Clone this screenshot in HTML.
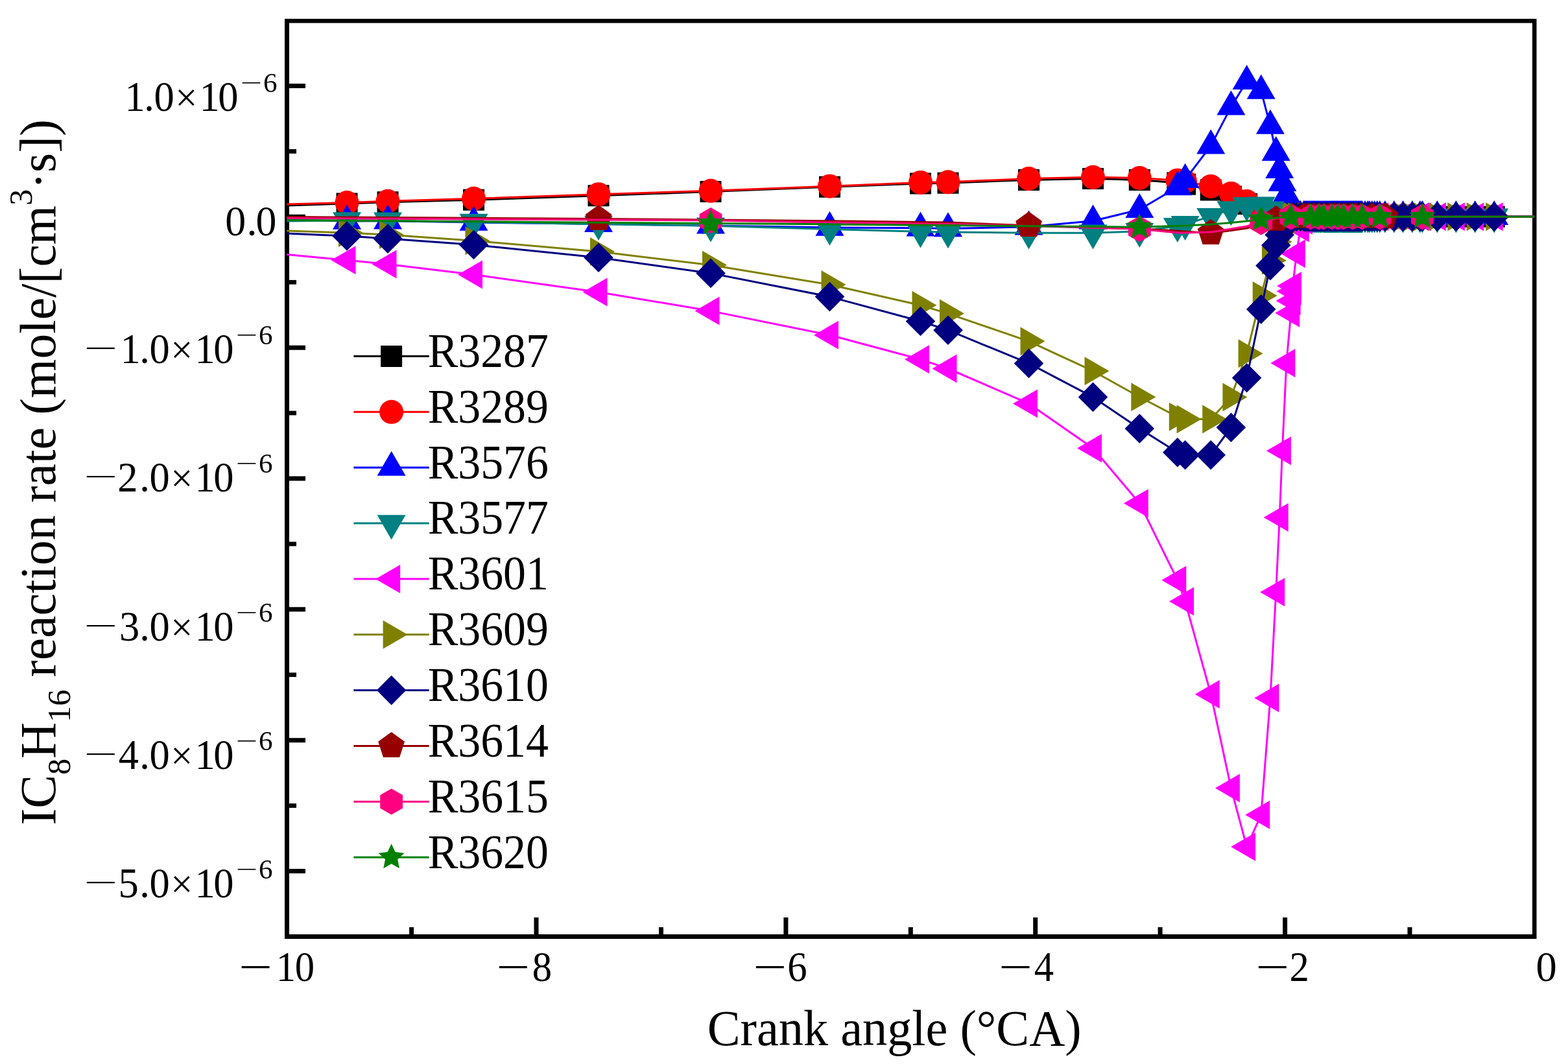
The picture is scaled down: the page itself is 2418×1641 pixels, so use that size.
<!DOCTYPE html><html><head><meta charset="utf-8"><title>IC8H16 reaction rate</title>
<style>html,body{margin:0;padding:0;background:#fff;overflow:hidden}svg{display:block}</style></head><body>
<svg width="2418" height="1641" viewBox="0 0 2418 1641">
<rect width="2418" height="1641" fill="#fff"/>
<g fill="#000"><rect x="439" y="29" width="7" height="1419"/><rect x="439" y="29" width="1930" height="6.5"/><rect x="2363" y="29" width="6.5" height="1419"/><rect x="439" y="1441" width="1930" height="7"/><rect x="446" y="129" width="25" height="7"/><rect x="446" y="330.8" width="25" height="7"/><rect x="446" y="532.7" width="25" height="7"/><rect x="446" y="734.5" width="25" height="7"/><rect x="446" y="936.3" width="25" height="7"/><rect x="446" y="1138.2" width="25" height="7"/><rect x="446" y="1340" width="25" height="7"/><rect x="446" y="230.1" width="11" height="6.7"/><rect x="446" y="431.9" width="11" height="6.7"/><rect x="446" y="633.7" width="11" height="6.7"/><rect x="446" y="835.6" width="11" height="6.7"/><rect x="446" y="1037.4" width="11" height="6.7"/><rect x="446" y="1239.2" width="11" height="6.7"/><rect x="823.5" y="1415" width="7" height="26"/><rect x="1208.4" y="1415" width="7" height="26"/><rect x="1593.2" y="1415" width="7" height="26"/><rect x="1978.1" y="1415" width="7" height="26"/><rect x="631.1" y="1430" width="7" height="11"/><rect x="1016" y="1430" width="7" height="11"/><rect x="1400.8" y="1430" width="7" height="11"/><rect x="1785.6" y="1430" width="7" height="11"/><rect x="2170.5" y="1430" width="7" height="11"/></g>
<defs><clipPath id="pa"><rect x="442.2" y="32" width="1924.1" height="1412"/></clipPath></defs>
<g clip-path="url(#pa)" stroke-linejoin="round">
<path d="M442.2 317 L535 314 L598 311.8 L730.5 308.3 L923 301.8 L1096 295.5 L1279.5 288.3 L1419.5 283 L1462 282.3 L1586.5 277.4 L1685.5 275.4 L1757.3 277.5 L1815.8 282 L1827.6 284.3 L1867.2 293.1 L1898.4 303 L1922.6 314.5 L1944.7 325 L1958.9 330 L1967.7 332.5 L1973.2 333.5 L1977.4 334 L1983.8 334.3 L1990.7 334.3 L1992.1 334.3 L1993.1 334.3 L1993.6 334.3 L1999.3 334.3 L2005.4 334.3 L2010.4 334.3 L2011.9 334.3 L2013.4 334.3 L2014.9 334.3 L2016.5 334.3 L2018 334.3 L2019.5 334.3 L2021 334.3 L2022.6 334.3 L2024.2 334.3 L2025.8 334.3 L2027.4 334.3 L2029 334.3 L2030.6 334.3 L2032.2 334.3 L2033.8 334.3 L2035.6 334.3 L2037.3 334.3 L2039.1 334.3 L2040.9 334.3 L2042.5 334.3 L2044.2 334.3 L2045.8 334.3 L2047.5 334.3 L2049.1 334.3 L2050.7 334.3 L2052.4 334.3 L2054 334.3 L2055.5 334.3 L2057 334.3 L2058.4 334.3 L2059.9 334.3 L2061.4 334.3 L2062.9 334.3 L2064.6 334.3 L2066.3 334.3 L2068.1 334.3 L2069.8 334.3 L2071.5 334.3 L2073.1 334.3 L2074.7 334.3 L2076.3 334.3 L2077.9 334.3 L2079.6 334.3 L2081.2 334.3 L2082.8 334.3 L2084.4 334.3 L2086 334.3 L2087.6 334.3 L2089.2 334.3 L2090.8 334.3 L2092.4 334.3 L2094.1 334.3 L2095.7 334.3 L2097.3 334.3 L2098.9 334.3 L2100.5 334.3 L2105 334.3 L2109.3 334.3 L2112 334.3 L2115.8 334.3 L2119.6 334.3 L2123.7 334.3 L2127.8 334.3 L2135.9 334.3 L2149.8 334.3 L2163.6 334.3 L2177.8 334.3 L2189.9 334.3 L2193.4 334.3 L2216.3 334.3 L2245.3 334.3 L2274.7 334.3 L2304.2 334.3 L2366.3 334.3" fill="none" stroke="#000000" stroke-width="3"/>
<path d="M518.5 297.5 L551.5 297.5 L551.5 330.5 L518.5 330.5 ZM581.5 295.3 L614.5 295.3 L614.5 328.3 L581.5 328.3 ZM714 291.8 L747 291.8 L747 324.8 L714 324.8 ZM906.5 285.3 L939.5 285.3 L939.5 318.3 L906.5 318.3 ZM1079.5 279 L1112.5 279 L1112.5 312 L1079.5 312 ZM1263 271.8 L1296 271.8 L1296 304.8 L1263 304.8 ZM1403 266.5 L1436 266.5 L1436 299.5 L1403 299.5 ZM1445.5 265.8 L1478.5 265.8 L1478.5 298.8 L1445.5 298.8 ZM1570 260.9 L1603 260.9 L1603 293.9 L1570 293.9 ZM1669 258.9 L1702 258.9 L1702 291.9 L1669 291.9 ZM1740.8 261 L1773.8 261 L1773.8 294 L1740.8 294 ZM1799.3 265.5 L1832.3 265.5 L1832.3 298.5 L1799.3 298.5 ZM1811.1 267.8 L1844.1 267.8 L1844.1 300.8 L1811.1 300.8 ZM1850.7 276.6 L1883.7 276.6 L1883.7 309.6 L1850.7 309.6 ZM1881.9 286.5 L1914.9 286.5 L1914.9 319.5 L1881.9 319.5 ZM1906.1 298 L1939.1 298 L1939.1 331 L1906.1 331 ZM1928.2 308.5 L1961.2 308.5 L1961.2 341.5 L1928.2 341.5 ZM1942.4 313.5 L1975.4 313.5 L1975.4 346.5 L1942.4 346.5 ZM1951.2 316 L1984.2 316 L1984.2 349 L1951.2 349 ZM1956.7 317 L1989.7 317 L1989.7 350 L1956.7 350 ZM1960.9 317.5 L1993.9 317.5 L1993.9 350.5 L1960.9 350.5 ZM1967.3 317.8 L2000.3 317.8 L2000.3 350.8 L1967.3 350.8 ZM1974.2 317.8 L2007.2 317.8 L2007.2 350.8 L1974.2 350.8 ZM1975.6 317.8 L2008.6 317.8 L2008.6 350.8 L1975.6 350.8 ZM1976.6 317.8 L2009.6 317.8 L2009.6 350.8 L1976.6 350.8 ZM1977.1 317.8 L2010.1 317.8 L2010.1 350.8 L1977.1 350.8 ZM1982.8 317.8 L2015.8 317.8 L2015.8 350.8 L1982.8 350.8 ZM1988.9 317.8 L2021.9 317.8 L2021.9 350.8 L1988.9 350.8 ZM1993.9 317.8 L2026.9 317.8 L2026.9 350.8 L1993.9 350.8 ZM1995.4 317.8 L2028.4 317.8 L2028.4 350.8 L1995.4 350.8 ZM1996.9 317.8 L2029.9 317.8 L2029.9 350.8 L1996.9 350.8 ZM1998.4 317.8 L2031.4 317.8 L2031.4 350.8 L1998.4 350.8 ZM2000 317.8 L2033 317.8 L2033 350.8 L2000 350.8 ZM2001.5 317.8 L2034.5 317.8 L2034.5 350.8 L2001.5 350.8 ZM2003 317.8 L2036 317.8 L2036 350.8 L2003 350.8 ZM2004.5 317.8 L2037.5 317.8 L2037.5 350.8 L2004.5 350.8 ZM2006.1 317.8 L2039.1 317.8 L2039.1 350.8 L2006.1 350.8 ZM2007.7 317.8 L2040.7 317.8 L2040.7 350.8 L2007.7 350.8 ZM2009.3 317.8 L2042.3 317.8 L2042.3 350.8 L2009.3 350.8 ZM2010.9 317.8 L2043.9 317.8 L2043.9 350.8 L2010.9 350.8 ZM2012.5 317.8 L2045.5 317.8 L2045.5 350.8 L2012.5 350.8 ZM2014.1 317.8 L2047.1 317.8 L2047.1 350.8 L2014.1 350.8 ZM2015.7 317.8 L2048.7 317.8 L2048.7 350.8 L2015.7 350.8 ZM2017.3 317.8 L2050.3 317.8 L2050.3 350.8 L2017.3 350.8 ZM2019.1 317.8 L2052.1 317.8 L2052.1 350.8 L2019.1 350.8 ZM2020.8 317.8 L2053.8 317.8 L2053.8 350.8 L2020.8 350.8 ZM2022.6 317.8 L2055.6 317.8 L2055.6 350.8 L2022.6 350.8 ZM2024.4 317.8 L2057.4 317.8 L2057.4 350.8 L2024.4 350.8 ZM2026 317.8 L2059 317.8 L2059 350.8 L2026 350.8 ZM2027.7 317.8 L2060.7 317.8 L2060.7 350.8 L2027.7 350.8 ZM2029.3 317.8 L2062.3 317.8 L2062.3 350.8 L2029.3 350.8 ZM2031 317.8 L2063.9 317.8 L2063.9 350.8 L2031 350.8 ZM2032.6 317.8 L2065.6 317.8 L2065.6 350.8 L2032.6 350.8 ZM2034.2 317.8 L2067.2 317.8 L2067.2 350.8 L2034.2 350.8 ZM2035.9 317.8 L2068.9 317.8 L2068.9 350.8 L2035.9 350.8 ZM2037.5 317.8 L2070.5 317.8 L2070.5 350.8 L2037.5 350.8 ZM2039 317.8 L2072 317.8 L2072 350.8 L2039 350.8 ZM2040.5 317.8 L2073.5 317.8 L2073.5 350.8 L2040.5 350.8 ZM2041.9 317.8 L2074.9 317.8 L2074.9 350.8 L2041.9 350.8 ZM2043.4 317.8 L2076.4 317.8 L2076.4 350.8 L2043.4 350.8 ZM2044.9 317.8 L2077.9 317.8 L2077.9 350.8 L2044.9 350.8 ZM2046.4 317.8 L2079.4 317.8 L2079.4 350.8 L2046.4 350.8 ZM2048.1 317.8 L2081.1 317.8 L2081.1 350.8 L2048.1 350.8 ZM2049.8 317.8 L2082.8 317.8 L2082.8 350.8 L2049.8 350.8 ZM2051.6 317.8 L2084.6 317.8 L2084.6 350.8 L2051.6 350.8 ZM2053.3 317.8 L2086.3 317.8 L2086.3 350.8 L2053.3 350.8 ZM2055 317.8 L2088 317.8 L2088 350.8 L2055 350.8 ZM2056.6 317.8 L2089.6 317.8 L2089.6 350.8 L2056.6 350.8 ZM2058.2 317.8 L2091.2 317.8 L2091.2 350.8 L2058.2 350.8 ZM2059.8 317.8 L2092.8 317.8 L2092.8 350.8 L2059.8 350.8 ZM2061.4 317.8 L2094.4 317.8 L2094.4 350.8 L2061.4 350.8 ZM2063.1 317.8 L2096.1 317.8 L2096.1 350.8 L2063.1 350.8 ZM2064.7 317.8 L2097.7 317.8 L2097.7 350.8 L2064.7 350.8 ZM2066.3 317.8 L2099.3 317.8 L2099.3 350.8 L2066.3 350.8 ZM2067.9 317.8 L2100.9 317.8 L2100.9 350.8 L2067.9 350.8 ZM2069.5 317.8 L2102.5 317.8 L2102.5 350.8 L2069.5 350.8 ZM2071.1 317.8 L2104.1 317.8 L2104.1 350.8 L2071.1 350.8 ZM2072.7 317.8 L2105.7 317.8 L2105.7 350.8 L2072.7 350.8 ZM2074.3 317.8 L2107.3 317.8 L2107.3 350.8 L2074.3 350.8 ZM2075.9 317.8 L2108.9 317.8 L2108.9 350.8 L2075.9 350.8 ZM2077.6 317.8 L2110.6 317.8 L2110.6 350.8 L2077.6 350.8 ZM2079.2 317.8 L2112.2 317.8 L2112.2 350.8 L2079.2 350.8 ZM2080.8 317.8 L2113.8 317.8 L2113.8 350.8 L2080.8 350.8 ZM2082.4 317.8 L2115.4 317.8 L2115.4 350.8 L2082.4 350.8 ZM2084 317.8 L2117 317.8 L2117 350.8 L2084 350.8 ZM2088.5 317.8 L2121.5 317.8 L2121.5 350.8 L2088.5 350.8 ZM2092.8 317.8 L2125.8 317.8 L2125.8 350.8 L2092.8 350.8 ZM2095.5 317.8 L2128.5 317.8 L2128.5 350.8 L2095.5 350.8 ZM2099.3 317.8 L2132.3 317.8 L2132.3 350.8 L2099.3 350.8 ZM2103.1 317.8 L2136.1 317.8 L2136.1 350.8 L2103.1 350.8 ZM2107.2 317.8 L2140.2 317.8 L2140.2 350.8 L2107.2 350.8 ZM2111.3 317.8 L2144.3 317.8 L2144.3 350.8 L2111.3 350.8 ZM2119.4 317.8 L2152.4 317.8 L2152.4 350.8 L2119.4 350.8 ZM2133.3 317.8 L2166.3 317.8 L2166.3 350.8 L2133.3 350.8 ZM2147.1 317.8 L2180.1 317.8 L2180.1 350.8 L2147.1 350.8 ZM2161.3 317.8 L2194.3 317.8 L2194.3 350.8 L2161.3 350.8 ZM2173.4 317.8 L2206.4 317.8 L2206.4 350.8 L2173.4 350.8 ZM2176.9 317.8 L2209.9 317.8 L2209.9 350.8 L2176.9 350.8 ZM2199.8 317.8 L2232.8 317.8 L2232.8 350.8 L2199.8 350.8 ZM2228.8 317.8 L2261.8 317.8 L2261.8 350.8 L2228.8 350.8 ZM2258.2 317.8 L2291.2 317.8 L2291.2 350.8 L2258.2 350.8 ZM2287.7 317.8 L2320.7 317.8 L2320.7 350.8 L2287.7 350.8 Z" fill="#000000"/>
<path d="M442.2 315 L535 312.5 L598 310.3 L730.5 306.3 L923 299.7 L1096 294.3 L1279.5 287.2 L1419.5 281.4 L1462 280.8 L1586.5 275.5 L1685.5 273.3 L1757.3 274.5 L1815.8 278.2 L1827.6 280 L1867.2 287.4 L1898.4 298.4 L1922.6 310.6 L1944.7 324 L1958.9 329 L1967.7 331.5 L1973.2 333 L1977.4 333.8 L1983.8 334.3 L1990.7 334.3 L1992.1 334.3 L1993.1 334.3 L1993.6 334.3 L1999.3 334.3 L2005.4 334.3 L2010.4 334.3 L2011.9 334.3 L2013.4 334.3 L2014.9 334.3 L2016.5 334.3 L2018 334.3 L2019.5 334.3 L2021 334.3 L2022.6 334.3 L2024.2 334.3 L2025.8 334.3 L2027.4 334.3 L2029 334.3 L2030.6 334.3 L2032.2 334.3 L2033.8 334.3 L2035.6 334.3 L2037.3 334.3 L2039.1 334.3 L2040.9 334.3 L2042.5 334.3 L2044.2 334.3 L2045.8 334.3 L2047.5 334.3 L2049.1 334.3 L2050.7 334.3 L2052.4 334.3 L2054 334.3 L2055.5 334.3 L2057 334.3 L2058.4 334.3 L2059.9 334.3 L2061.4 334.3 L2062.9 334.3 L2064.6 334.3 L2066.3 334.3 L2068.1 334.3 L2069.8 334.3 L2071.5 334.3 L2073.1 334.3 L2074.7 334.3 L2076.3 334.3 L2077.9 334.3 L2079.6 334.3 L2081.2 334.3 L2082.8 334.3 L2084.4 334.3 L2086 334.3 L2087.6 334.3 L2089.2 334.3 L2090.8 334.3 L2092.4 334.3 L2094.1 334.3 L2095.7 334.3 L2097.3 334.3 L2098.9 334.3 L2100.5 334.3 L2105 334.3 L2109.3 334.3 L2112 334.3 L2115.8 334.3 L2119.6 334.3 L2123.7 334.3 L2127.8 334.3 L2135.9 334.3 L2149.8 334.3 L2163.6 334.3 L2177.8 334.3 L2189.9 334.3 L2193.4 334.3 L2216.3 334.3 L2245.3 334.3 L2274.7 334.3 L2304.2 334.3 L2366.3 334.3" fill="none" stroke="#FF0000" stroke-width="3"/>
<path d="M516.5 312.5a18.5 18.5 0 1 0 37.0 0a18.5 18.5 0 1 0 -37.0 0ZM579.5 310.3a18.5 18.5 0 1 0 37.0 0a18.5 18.5 0 1 0 -37.0 0ZM712 306.3a18.5 18.5 0 1 0 37.0 0a18.5 18.5 0 1 0 -37.0 0ZM904.5 299.7a18.5 18.5 0 1 0 37.0 0a18.5 18.5 0 1 0 -37.0 0ZM1077.5 294.3a18.5 18.5 0 1 0 37.0 0a18.5 18.5 0 1 0 -37.0 0ZM1261 287.2a18.5 18.5 0 1 0 37.0 0a18.5 18.5 0 1 0 -37.0 0ZM1401 281.4a18.5 18.5 0 1 0 37.0 0a18.5 18.5 0 1 0 -37.0 0ZM1443.5 280.8a18.5 18.5 0 1 0 37.0 0a18.5 18.5 0 1 0 -37.0 0ZM1568 275.5a18.5 18.5 0 1 0 37.0 0a18.5 18.5 0 1 0 -37.0 0ZM1667 273.3a18.5 18.5 0 1 0 37.0 0a18.5 18.5 0 1 0 -37.0 0ZM1738.8 274.5a18.5 18.5 0 1 0 37.0 0a18.5 18.5 0 1 0 -37.0 0ZM1797.3 278.2a18.5 18.5 0 1 0 37.0 0a18.5 18.5 0 1 0 -37.0 0ZM1809.1 280a18.5 18.5 0 1 0 37.0 0a18.5 18.5 0 1 0 -37.0 0ZM1848.7 287.4a18.5 18.5 0 1 0 37.0 0a18.5 18.5 0 1 0 -37.0 0ZM1879.9 298.4a18.5 18.5 0 1 0 37.0 0a18.5 18.5 0 1 0 -37.0 0ZM1904.1 310.6a18.5 18.5 0 1 0 37.0 0a18.5 18.5 0 1 0 -37.0 0ZM1926.2 324a18.5 18.5 0 1 0 37.0 0a18.5 18.5 0 1 0 -37.0 0ZM1940.4 329a18.5 18.5 0 1 0 37.0 0a18.5 18.5 0 1 0 -37.0 0ZM1949.2 331.5a18.5 18.5 0 1 0 37.0 0a18.5 18.5 0 1 0 -37.0 0ZM1954.7 333a18.5 18.5 0 1 0 37.0 0a18.5 18.5 0 1 0 -37.0 0ZM1958.9 333.8a18.5 18.5 0 1 0 37.0 0a18.5 18.5 0 1 0 -37.0 0ZM1965.3 334.3a18.5 18.5 0 1 0 37.0 0a18.5 18.5 0 1 0 -37.0 0ZM1972.2 334.3a18.5 18.5 0 1 0 37.0 0a18.5 18.5 0 1 0 -37.0 0ZM1973.6 334.3a18.5 18.5 0 1 0 37.0 0a18.5 18.5 0 1 0 -37.0 0ZM1974.6 334.3a18.5 18.5 0 1 0 37.0 0a18.5 18.5 0 1 0 -37.0 0ZM1975.1 334.3a18.5 18.5 0 1 0 37.0 0a18.5 18.5 0 1 0 -37.0 0ZM1980.8 334.3a18.5 18.5 0 1 0 37.0 0a18.5 18.5 0 1 0 -37.0 0ZM1986.9 334.3a18.5 18.5 0 1 0 37.0 0a18.5 18.5 0 1 0 -37.0 0ZM1991.9 334.3a18.5 18.5 0 1 0 37.0 0a18.5 18.5 0 1 0 -37.0 0ZM1993.4 334.3a18.5 18.5 0 1 0 37.0 0a18.5 18.5 0 1 0 -37.0 0ZM1994.9 334.3a18.5 18.5 0 1 0 37.0 0a18.5 18.5 0 1 0 -37.0 0ZM1996.4 334.3a18.5 18.5 0 1 0 37.0 0a18.5 18.5 0 1 0 -37.0 0ZM1998 334.3a18.5 18.5 0 1 0 37.0 0a18.5 18.5 0 1 0 -37.0 0ZM1999.5 334.3a18.5 18.5 0 1 0 37.0 0a18.5 18.5 0 1 0 -37.0 0ZM2001 334.3a18.5 18.5 0 1 0 37.0 0a18.5 18.5 0 1 0 -37.0 0ZM2002.5 334.3a18.5 18.5 0 1 0 37.0 0a18.5 18.5 0 1 0 -37.0 0ZM2004.1 334.3a18.5 18.5 0 1 0 37.0 0a18.5 18.5 0 1 0 -37.0 0ZM2005.7 334.3a18.5 18.5 0 1 0 37.0 0a18.5 18.5 0 1 0 -37.0 0ZM2007.3 334.3a18.5 18.5 0 1 0 37.0 0a18.5 18.5 0 1 0 -37.0 0ZM2008.9 334.3a18.5 18.5 0 1 0 37.0 0a18.5 18.5 0 1 0 -37.0 0ZM2010.5 334.3a18.5 18.5 0 1 0 37.0 0a18.5 18.5 0 1 0 -37.0 0ZM2012.1 334.3a18.5 18.5 0 1 0 37.0 0a18.5 18.5 0 1 0 -37.0 0ZM2013.7 334.3a18.5 18.5 0 1 0 37.0 0a18.5 18.5 0 1 0 -37.0 0ZM2015.3 334.3a18.5 18.5 0 1 0 37.0 0a18.5 18.5 0 1 0 -37.0 0ZM2017.1 334.3a18.5 18.5 0 1 0 37.0 0a18.5 18.5 0 1 0 -37.0 0ZM2018.8 334.3a18.5 18.5 0 1 0 37.0 0a18.5 18.5 0 1 0 -37.0 0ZM2020.6 334.3a18.5 18.5 0 1 0 37.0 0a18.5 18.5 0 1 0 -37.0 0ZM2022.4 334.3a18.5 18.5 0 1 0 37.0 0a18.5 18.5 0 1 0 -37.0 0ZM2024 334.3a18.5 18.5 0 1 0 37.0 0a18.5 18.5 0 1 0 -37.0 0ZM2025.7 334.3a18.5 18.5 0 1 0 37.0 0a18.5 18.5 0 1 0 -37.0 0ZM2027.3 334.3a18.5 18.5 0 1 0 37.0 0a18.5 18.5 0 1 0 -37.0 0ZM2029 334.3a18.5 18.5 0 1 0 37.0 0a18.5 18.5 0 1 0 -37.0 0ZM2030.6 334.3a18.5 18.5 0 1 0 37.0 0a18.5 18.5 0 1 0 -37.0 0ZM2032.2 334.3a18.5 18.5 0 1 0 37.0 0a18.5 18.5 0 1 0 -37.0 0ZM2033.9 334.3a18.5 18.5 0 1 0 37.0 0a18.5 18.5 0 1 0 -37.0 0ZM2035.5 334.3a18.5 18.5 0 1 0 37.0 0a18.5 18.5 0 1 0 -37.0 0ZM2037 334.3a18.5 18.5 0 1 0 37.0 0a18.5 18.5 0 1 0 -37.0 0ZM2038.5 334.3a18.5 18.5 0 1 0 37.0 0a18.5 18.5 0 1 0 -37.0 0ZM2039.9 334.3a18.5 18.5 0 1 0 37.0 0a18.5 18.5 0 1 0 -37.0 0ZM2041.4 334.3a18.5 18.5 0 1 0 37.0 0a18.5 18.5 0 1 0 -37.0 0ZM2042.9 334.3a18.5 18.5 0 1 0 37.0 0a18.5 18.5 0 1 0 -37.0 0ZM2044.4 334.3a18.5 18.5 0 1 0 37.0 0a18.5 18.5 0 1 0 -37.0 0ZM2046.1 334.3a18.5 18.5 0 1 0 37.0 0a18.5 18.5 0 1 0 -37.0 0ZM2047.8 334.3a18.5 18.5 0 1 0 37.0 0a18.5 18.5 0 1 0 -37.0 0ZM2049.6 334.3a18.5 18.5 0 1 0 37.0 0a18.5 18.5 0 1 0 -37.0 0ZM2051.3 334.3a18.5 18.5 0 1 0 37.0 0a18.5 18.5 0 1 0 -37.0 0ZM2053 334.3a18.5 18.5 0 1 0 37.0 0a18.5 18.5 0 1 0 -37.0 0ZM2054.6 334.3a18.5 18.5 0 1 0 37.0 0a18.5 18.5 0 1 0 -37.0 0ZM2056.2 334.3a18.5 18.5 0 1 0 37.0 0a18.5 18.5 0 1 0 -37.0 0ZM2057.8 334.3a18.5 18.5 0 1 0 37.0 0a18.5 18.5 0 1 0 -37.0 0ZM2059.4 334.3a18.5 18.5 0 1 0 37.0 0a18.5 18.5 0 1 0 -37.0 0ZM2061.1 334.3a18.5 18.5 0 1 0 37.0 0a18.5 18.5 0 1 0 -37.0 0ZM2062.7 334.3a18.5 18.5 0 1 0 37.0 0a18.5 18.5 0 1 0 -37.0 0ZM2064.3 334.3a18.5 18.5 0 1 0 37.0 0a18.5 18.5 0 1 0 -37.0 0ZM2065.9 334.3a18.5 18.5 0 1 0 37.0 0a18.5 18.5 0 1 0 -37.0 0ZM2067.5 334.3a18.5 18.5 0 1 0 37.0 0a18.5 18.5 0 1 0 -37.0 0ZM2069.1 334.3a18.5 18.5 0 1 0 37.0 0a18.5 18.5 0 1 0 -37.0 0ZM2070.7 334.3a18.5 18.5 0 1 0 37.0 0a18.5 18.5 0 1 0 -37.0 0ZM2072.3 334.3a18.5 18.5 0 1 0 37.0 0a18.5 18.5 0 1 0 -37.0 0ZM2073.9 334.3a18.5 18.5 0 1 0 37.0 0a18.5 18.5 0 1 0 -37.0 0ZM2075.6 334.3a18.5 18.5 0 1 0 37.0 0a18.5 18.5 0 1 0 -37.0 0ZM2077.2 334.3a18.5 18.5 0 1 0 37.0 0a18.5 18.5 0 1 0 -37.0 0ZM2078.8 334.3a18.5 18.5 0 1 0 37.0 0a18.5 18.5 0 1 0 -37.0 0ZM2080.4 334.3a18.5 18.5 0 1 0 37.0 0a18.5 18.5 0 1 0 -37.0 0ZM2082 334.3a18.5 18.5 0 1 0 37.0 0a18.5 18.5 0 1 0 -37.0 0ZM2086.5 334.3a18.5 18.5 0 1 0 37.0 0a18.5 18.5 0 1 0 -37.0 0ZM2090.8 334.3a18.5 18.5 0 1 0 37.0 0a18.5 18.5 0 1 0 -37.0 0ZM2093.5 334.3a18.5 18.5 0 1 0 37.0 0a18.5 18.5 0 1 0 -37.0 0ZM2097.3 334.3a18.5 18.5 0 1 0 37.0 0a18.5 18.5 0 1 0 -37.0 0ZM2101.1 334.3a18.5 18.5 0 1 0 37.0 0a18.5 18.5 0 1 0 -37.0 0ZM2105.2 334.3a18.5 18.5 0 1 0 37.0 0a18.5 18.5 0 1 0 -37.0 0ZM2109.3 334.3a18.5 18.5 0 1 0 37.0 0a18.5 18.5 0 1 0 -37.0 0ZM2117.4 334.3a18.5 18.5 0 1 0 37.0 0a18.5 18.5 0 1 0 -37.0 0ZM2131.3 334.3a18.5 18.5 0 1 0 37.0 0a18.5 18.5 0 1 0 -37.0 0ZM2145.1 334.3a18.5 18.5 0 1 0 37.0 0a18.5 18.5 0 1 0 -37.0 0ZM2159.3 334.3a18.5 18.5 0 1 0 37.0 0a18.5 18.5 0 1 0 -37.0 0ZM2171.4 334.3a18.5 18.5 0 1 0 37.0 0a18.5 18.5 0 1 0 -37.0 0ZM2174.9 334.3a18.5 18.5 0 1 0 37.0 0a18.5 18.5 0 1 0 -37.0 0ZM2197.8 334.3a18.5 18.5 0 1 0 37.0 0a18.5 18.5 0 1 0 -37.0 0ZM2226.8 334.3a18.5 18.5 0 1 0 37.0 0a18.5 18.5 0 1 0 -37.0 0ZM2256.2 334.3a18.5 18.5 0 1 0 37.0 0a18.5 18.5 0 1 0 -37.0 0ZM2285.7 334.3a18.5 18.5 0 1 0 37.0 0a18.5 18.5 0 1 0 -37.0 0Z" fill="#FF0000"/>
<path d="M442.2 339.5 L535 341 L598 340.8 L730.5 343.1 L923 345.3 L1096 347.9 L1279.5 351 L1419.5 351.8 L1462 352.6 L1586.5 349.8 L1685.5 340.8 L1757.3 323.2 L1815.8 288.5 L1827.6 277.1 L1867.2 224.9 L1898.4 164.9 L1922.6 125.3 L1944.7 140.1 L1958.9 194.1 L1967.7 235.2 L1973.2 262.3 L1977.4 282.3 L1983.8 300.9 L1990.7 316 L1992.1 322 L1993.1 326 L1993.6 328.5 L1999.3 332 L2005.4 334 L2010.4 334.3 L2011.9 334.3 L2013.4 334.3 L2014.9 334.3 L2016.5 334.3 L2018 334.3 L2019.5 334.3 L2021 334.3 L2022.6 334.3 L2024.2 334.3 L2025.8 334.3 L2027.4 334.3 L2029 334.3 L2030.6 334.3 L2032.2 334.3 L2033.8 334.3 L2035.6 334.3 L2037.3 334.3 L2039.1 334.3 L2040.9 334.3 L2042.5 334.3 L2044.2 334.3 L2045.8 334.3 L2047.5 334.3 L2049.1 334.3 L2050.7 334.3 L2052.4 334.3 L2054 334.3 L2055.5 334.3 L2057 334.3 L2058.4 334.3 L2059.9 334.3 L2061.4 334.3 L2062.9 334.3 L2064.6 334.3 L2066.3 334.3 L2068.1 334.3 L2069.8 334.3 L2071.5 334.3 L2073.1 334.3 L2074.7 334.3 L2076.3 334.3 L2077.9 334.3 L2079.6 334.3 L2081.2 334.3 L2082.8 334.3 L2084.4 334.3 L2086 334.3 L2087.6 334.3 L2089.2 334.3 L2090.8 334.3 L2092.4 334.3 L2094.1 334.3 L2095.7 334.3 L2097.3 334.3 L2098.9 334.3 L2100.5 334.3 L2105 334.3 L2109.3 334.3 L2112 334.3 L2115.8 334.3 L2119.6 334.3 L2123.7 334.3 L2127.8 334.3 L2135.9 334.3 L2149.8 334.3 L2163.6 334.3 L2177.8 334.3 L2189.9 334.3 L2193.4 334.3 L2216.3 334.3 L2245.3 334.3 L2274.7 334.3 L2304.2 334.3 L2366.3 334.3" fill="none" stroke="#0000FF" stroke-width="3"/>
<path d="M535 315.7 L557 353.7 L513 353.7 ZM598 315.5 L620 353.5 L576 353.5 ZM730.5 317.8 L752.5 355.8 L708.5 355.8 ZM923 320 L945 358 L901 358 ZM1096 322.6 L1118 360.6 L1074 360.6 ZM1279.5 325.7 L1301.5 363.7 L1257.5 363.7 ZM1419.5 326.5 L1441.5 364.5 L1397.5 364.5 ZM1462 327.3 L1484 365.3 L1440 365.3 ZM1586.5 324.5 L1608.5 362.5 L1564.5 362.5 ZM1685.5 315.5 L1707.5 353.5 L1663.5 353.5 ZM1757.3 297.9 L1779.3 335.9 L1735.3 335.9 ZM1815.8 263.2 L1837.8 301.2 L1793.8 301.2 ZM1827.6 251.8 L1849.6 289.8 L1805.6 289.8 ZM1867.2 199.6 L1889.2 237.6 L1845.2 237.6 ZM1898.4 139.6 L1920.4 177.6 L1876.4 177.6 ZM1922.6 100 L1944.6 138 L1900.6 138 ZM1944.7 114.8 L1966.7 152.8 L1922.7 152.8 ZM1958.9 168.8 L1980.9 206.8 L1936.9 206.8 ZM1967.7 209.9 L1989.7 247.9 L1945.7 247.9 ZM1973.2 237 L1995.2 275 L1951.2 275 ZM1977.4 257 L1999.4 295 L1955.4 295 ZM1983.8 275.6 L2005.8 313.6 L1961.8 313.6 ZM1990.7 290.7 L2012.7 328.7 L1968.7 328.7 ZM1992.1 296.7 L2014.1 334.7 L1970.1 334.7 ZM1993.1 300.7 L2015.1 338.7 L1971.1 338.7 ZM1993.6 303.2 L2015.6 341.2 L1971.6 341.2 ZM1999.3 306.7 L2021.3 344.7 L1977.3 344.7 ZM2005.4 308.7 L2027.4 346.7 L1983.4 346.7 ZM2010.4 309 L2032.4 347 L1988.4 347 ZM2011.9 309 L2033.9 347 L1989.9 347 ZM2013.4 309 L2035.4 347 L1991.4 347 ZM2014.9 309 L2036.9 347 L1992.9 347 ZM2016.5 309 L2038.5 347 L1994.5 347 ZM2018 309 L2040 347 L1996 347 ZM2019.5 309 L2041.5 347 L1997.5 347 ZM2021 309 L2043 347 L1999 347 ZM2022.6 309 L2044.6 347 L2000.6 347 ZM2024.2 309 L2046.2 347 L2002.2 347 ZM2025.8 309 L2047.8 347 L2003.8 347 ZM2027.4 309 L2049.4 347 L2005.4 347 ZM2029 309 L2051 347 L2007 347 ZM2030.6 309 L2052.6 347 L2008.6 347 ZM2032.2 309 L2054.2 347 L2010.2 347 ZM2033.8 309 L2055.8 347 L2011.8 347 ZM2035.6 309 L2057.6 347 L2013.6 347 ZM2037.3 309 L2059.3 347 L2015.3 347 ZM2039.1 309 L2061.1 347 L2017.1 347 ZM2040.9 309 L2062.9 347 L2018.9 347 ZM2042.5 309 L2064.5 347 L2020.5 347 ZM2044.2 309 L2066.2 347 L2022.2 347 ZM2045.8 309 L2067.8 347 L2023.8 347 ZM2047.5 309 L2069.4 347 L2025.5 347 ZM2049.1 309 L2071.1 347 L2027.1 347 ZM2050.7 309 L2072.7 347 L2028.7 347 ZM2052.4 309 L2074.4 347 L2030.4 347 ZM2054 309 L2076 347 L2032 347 ZM2055.5 309 L2077.5 347 L2033.5 347 ZM2057 309 L2079 347 L2035 347 ZM2058.4 309 L2080.4 347 L2036.4 347 ZM2059.9 309 L2081.9 347 L2037.9 347 ZM2061.4 309 L2083.4 347 L2039.4 347 ZM2062.9 309 L2084.9 347 L2040.9 347 ZM2064.6 309 L2086.6 347 L2042.6 347 ZM2066.3 309 L2088.3 347 L2044.3 347 ZM2068.1 309 L2090.1 347 L2046.1 347 ZM2069.8 309 L2091.8 347 L2047.8 347 ZM2071.5 309 L2093.5 347 L2049.5 347 ZM2073.1 309 L2095.1 347 L2051.1 347 ZM2074.7 309 L2096.7 347 L2052.7 347 ZM2076.3 309 L2098.3 347 L2054.3 347 ZM2077.9 309 L2099.9 347 L2055.9 347 ZM2079.6 309 L2101.6 347 L2057.6 347 ZM2081.2 309 L2103.2 347 L2059.2 347 ZM2082.8 309 L2104.8 347 L2060.8 347 ZM2084.4 309 L2106.4 347 L2062.4 347 ZM2086 309 L2108 347 L2064 347 ZM2087.6 309 L2109.6 347 L2065.6 347 ZM2089.2 309 L2111.2 347 L2067.2 347 ZM2090.8 309 L2112.8 347 L2068.8 347 ZM2092.4 309 L2114.4 347 L2070.4 347 ZM2094.1 309 L2116.1 347 L2072.1 347 ZM2095.7 309 L2117.7 347 L2073.7 347 ZM2097.3 309 L2119.3 347 L2075.3 347 ZM2098.9 309 L2120.9 347 L2076.9 347 ZM2100.5 309 L2122.5 347 L2078.5 347 ZM2105 309 L2127 347 L2083 347 ZM2109.3 309 L2131.3 347 L2087.3 347 ZM2112 309 L2134 347 L2090 347 ZM2115.8 309 L2137.8 347 L2093.8 347 ZM2119.6 309 L2141.6 347 L2097.6 347 ZM2123.7 309 L2145.7 347 L2101.7 347 ZM2127.8 309 L2149.8 347 L2105.8 347 ZM2135.9 309 L2157.9 347 L2113.9 347 ZM2149.8 309 L2171.8 347 L2127.8 347 ZM2163.6 309 L2185.6 347 L2141.6 347 ZM2177.8 309 L2199.8 347 L2155.8 347 ZM2189.9 309 L2211.9 347 L2167.9 347 ZM2193.4 309 L2215.4 347 L2171.4 347 ZM2216.3 309 L2238.3 347 L2194.3 347 ZM2245.3 309 L2267.3 347 L2223.3 347 ZM2274.7 309 L2296.7 347 L2252.7 347 ZM2304.2 309 L2326.2 347 L2282.2 347 Z" fill="#0000FF"/>
<path d="M442.2 341 L535 340 L598 340.3 L730.5 342.5 L923 345.7 L1096 348.3 L1279.5 353.5 L1419.5 357.3 L1462 357.9 L1586.5 359.3 L1685.5 359.3 L1757.3 356.7 L1815.8 348.7 L1827.6 345.7 L1867.2 333.8 L1898.4 322.9 L1922.6 316.7 L1944.7 316.3 L1958.9 323.2 L1967.7 328 L1973.2 331 L1977.4 333 L1983.8 334 L1990.7 334.3 L1992.1 334.3 L1993.1 334.3 L1993.6 334.3 L1999.3 334.3 L2005.4 334.3 L2010.4 334.3 L2011.9 334.3 L2013.4 334.3 L2014.9 334.3 L2016.5 334.3 L2018 334.3 L2019.5 334.3 L2021 334.3 L2022.6 334.3 L2024.2 334.3 L2025.8 334.3 L2027.4 334.3 L2029 334.3 L2030.6 334.3 L2032.2 334.3 L2033.8 334.3 L2035.6 334.3 L2037.3 334.3 L2039.1 334.3 L2040.9 334.3 L2042.5 334.3 L2044.2 334.3 L2045.8 334.3 L2047.5 334.3 L2049.1 334.3 L2050.7 334.3 L2052.4 334.3 L2054 334.3 L2055.5 334.3 L2057 334.3 L2058.4 334.3 L2059.9 334.3 L2061.4 334.3 L2062.9 334.3 L2064.6 334.3 L2066.3 334.3 L2068.1 334.3 L2069.8 334.3 L2071.5 334.3 L2073.1 334.3 L2074.7 334.3 L2076.3 334.3 L2077.9 334.3 L2079.6 334.3 L2081.2 334.3 L2082.8 334.3 L2084.4 334.3 L2086 334.3 L2087.6 334.3 L2089.2 334.3 L2090.8 334.3 L2092.4 334.3 L2094.1 334.3 L2095.7 334.3 L2097.3 334.3 L2098.9 334.3 L2100.5 334.3 L2105 334.3 L2109.3 334.3 L2112 334.3 L2115.8 334.3 L2119.6 334.3 L2123.7 334.3 L2127.8 334.3 L2135.9 334.3 L2149.8 334.3 L2163.6 334.3 L2177.8 334.3 L2189.9 334.3 L2193.4 334.3 L2216.3 334.3 L2245.3 334.3 L2274.7 334.3 L2304.2 334.3 L2366.3 334.3" fill="none" stroke="#008080" stroke-width="3"/>
<path d="M535 365.3 L557 327.3 L513 327.3 ZM598 365.6 L620 327.6 L576 327.6 ZM730.5 367.8 L752.5 329.8 L708.5 329.8 ZM923 371 L945 333 L901 333 ZM1096 373.6 L1118 335.6 L1074 335.6 ZM1279.5 378.8 L1301.5 340.8 L1257.5 340.8 ZM1419.5 382.6 L1441.5 344.6 L1397.5 344.6 ZM1462 383.2 L1484 345.2 L1440 345.2 ZM1586.5 384.6 L1608.5 346.6 L1564.5 346.6 ZM1685.5 384.6 L1707.5 346.6 L1663.5 346.6 ZM1757.3 382 L1779.3 344 L1735.3 344 ZM1815.8 374 L1837.8 336 L1793.8 336 ZM1827.6 371 L1849.6 333 L1805.6 333 ZM1867.2 359.1 L1889.2 321.1 L1845.2 321.1 ZM1898.4 348.2 L1920.4 310.2 L1876.4 310.2 ZM1922.6 342 L1944.6 304 L1900.6 304 ZM1944.7 341.6 L1966.7 303.6 L1922.7 303.6 ZM1958.9 348.5 L1980.9 310.5 L1936.9 310.5 ZM1967.7 353.3 L1989.7 315.3 L1945.7 315.3 ZM1973.2 356.3 L1995.2 318.3 L1951.2 318.3 ZM1977.4 358.3 L1999.4 320.3 L1955.4 320.3 ZM1983.8 359.3 L2005.8 321.3 L1961.8 321.3 ZM1990.7 359.6 L2012.7 321.6 L1968.7 321.6 ZM1992.1 359.6 L2014.1 321.6 L1970.1 321.6 ZM1993.1 359.6 L2015.1 321.6 L1971.1 321.6 ZM1993.6 359.6 L2015.6 321.6 L1971.6 321.6 ZM1999.3 359.6 L2021.3 321.6 L1977.3 321.6 ZM2005.4 359.6 L2027.4 321.6 L1983.4 321.6 ZM2010.4 359.6 L2032.4 321.6 L1988.4 321.6 ZM2011.9 359.6 L2033.9 321.6 L1989.9 321.6 ZM2013.4 359.6 L2035.4 321.6 L1991.4 321.6 ZM2014.9 359.6 L2036.9 321.6 L1992.9 321.6 ZM2016.5 359.6 L2038.5 321.6 L1994.5 321.6 ZM2018 359.6 L2040 321.6 L1996 321.6 ZM2019.5 359.6 L2041.5 321.6 L1997.5 321.6 ZM2021 359.6 L2043 321.6 L1999 321.6 ZM2022.6 359.6 L2044.6 321.6 L2000.6 321.6 ZM2024.2 359.6 L2046.2 321.6 L2002.2 321.6 ZM2025.8 359.6 L2047.8 321.6 L2003.8 321.6 ZM2027.4 359.6 L2049.4 321.6 L2005.4 321.6 ZM2029 359.6 L2051 321.6 L2007 321.6 ZM2030.6 359.6 L2052.6 321.6 L2008.6 321.6 ZM2032.2 359.6 L2054.2 321.6 L2010.2 321.6 ZM2033.8 359.6 L2055.8 321.6 L2011.8 321.6 ZM2035.6 359.6 L2057.6 321.6 L2013.6 321.6 ZM2037.3 359.6 L2059.3 321.6 L2015.3 321.6 ZM2039.1 359.6 L2061.1 321.6 L2017.1 321.6 ZM2040.9 359.6 L2062.9 321.6 L2018.9 321.6 ZM2042.5 359.6 L2064.5 321.6 L2020.5 321.6 ZM2044.2 359.6 L2066.2 321.6 L2022.2 321.6 ZM2045.8 359.6 L2067.8 321.6 L2023.8 321.6 ZM2047.5 359.6 L2069.4 321.6 L2025.5 321.6 ZM2049.1 359.6 L2071.1 321.6 L2027.1 321.6 ZM2050.7 359.6 L2072.7 321.6 L2028.7 321.6 ZM2052.4 359.6 L2074.4 321.6 L2030.4 321.6 ZM2054 359.6 L2076 321.6 L2032 321.6 ZM2055.5 359.6 L2077.5 321.6 L2033.5 321.6 ZM2057 359.6 L2079 321.6 L2035 321.6 ZM2058.4 359.6 L2080.4 321.6 L2036.4 321.6 ZM2059.9 359.6 L2081.9 321.6 L2037.9 321.6 ZM2061.4 359.6 L2083.4 321.6 L2039.4 321.6 ZM2062.9 359.6 L2084.9 321.6 L2040.9 321.6 ZM2064.6 359.6 L2086.6 321.6 L2042.6 321.6 ZM2066.3 359.6 L2088.3 321.6 L2044.3 321.6 ZM2068.1 359.6 L2090.1 321.6 L2046.1 321.6 ZM2069.8 359.6 L2091.8 321.6 L2047.8 321.6 ZM2071.5 359.6 L2093.5 321.6 L2049.5 321.6 ZM2073.1 359.6 L2095.1 321.6 L2051.1 321.6 ZM2074.7 359.6 L2096.7 321.6 L2052.7 321.6 ZM2076.3 359.6 L2098.3 321.6 L2054.3 321.6 ZM2077.9 359.6 L2099.9 321.6 L2055.9 321.6 ZM2079.6 359.6 L2101.6 321.6 L2057.6 321.6 ZM2081.2 359.6 L2103.2 321.6 L2059.2 321.6 ZM2082.8 359.6 L2104.8 321.6 L2060.8 321.6 ZM2084.4 359.6 L2106.4 321.6 L2062.4 321.6 ZM2086 359.6 L2108 321.6 L2064 321.6 ZM2087.6 359.6 L2109.6 321.6 L2065.6 321.6 ZM2089.2 359.6 L2111.2 321.6 L2067.2 321.6 ZM2090.8 359.6 L2112.8 321.6 L2068.8 321.6 ZM2092.4 359.6 L2114.4 321.6 L2070.4 321.6 ZM2094.1 359.6 L2116.1 321.6 L2072.1 321.6 ZM2095.7 359.6 L2117.7 321.6 L2073.7 321.6 ZM2097.3 359.6 L2119.3 321.6 L2075.3 321.6 ZM2098.9 359.6 L2120.9 321.6 L2076.9 321.6 ZM2100.5 359.6 L2122.5 321.6 L2078.5 321.6 ZM2105 359.6 L2127 321.6 L2083 321.6 ZM2109.3 359.6 L2131.3 321.6 L2087.3 321.6 ZM2112 359.6 L2134 321.6 L2090 321.6 ZM2115.8 359.6 L2137.8 321.6 L2093.8 321.6 ZM2119.6 359.6 L2141.6 321.6 L2097.6 321.6 ZM2123.7 359.6 L2145.7 321.6 L2101.7 321.6 ZM2127.8 359.6 L2149.8 321.6 L2105.8 321.6 ZM2135.9 359.6 L2157.9 321.6 L2113.9 321.6 ZM2149.8 359.6 L2171.8 321.6 L2127.8 321.6 ZM2163.6 359.6 L2185.6 321.6 L2141.6 321.6 ZM2177.8 359.6 L2199.8 321.6 L2155.8 321.6 ZM2189.9 359.6 L2211.9 321.6 L2167.9 321.6 ZM2193.4 359.6 L2215.4 321.6 L2171.4 321.6 ZM2216.3 359.6 L2238.3 321.6 L2194.3 321.6 ZM2245.3 359.6 L2267.3 321.6 L2223.3 321.6 ZM2274.7 359.6 L2296.7 321.6 L2252.7 321.6 ZM2304.2 359.6 L2326.2 321.6 L2282.2 321.6 Z" fill="#008080"/>
<path d="M442.2 392.4 L535 401.3 L598 407.5 L730.5 423.5 L923 450.4 L1096 479.6 L1279.5 516.8 L1419.5 554.3 L1462 568.5 L1586.5 622.4 L1685.5 691.2 L1757.3 776.2 L1815.8 894.7 L1827.6 927.5 L1867.2 1070.7 L1898.4 1215.6 L1922.6 1306 L1944.7 1256.8 L1958.9 1076.6 L1967.7 913.3 L1973.2 798 L1977.4 695.3 L1983.8 559.9 L1990.7 482.7 L1992.1 464 L1993.1 449.2 L1993.6 440.9 L1999.3 391.2 L2005.4 351.6 L2010.4 339.8 L2011.9 335.5 L2013.4 334.3 L2014.9 334.3 L2016.5 334.3 L2018 334.3 L2019.5 334.3 L2021 334.3 L2022.6 334.3 L2024.2 334.3 L2025.8 334.3 L2027.4 334.3 L2029 334.3 L2030.6 334.3 L2032.2 334.3 L2033.8 334.3 L2035.6 334.3 L2037.3 334.3 L2039.1 334.3 L2040.9 334.3 L2042.5 334.3 L2044.2 334.3 L2045.8 334.3 L2047.5 334.3 L2049.1 334.3 L2050.7 334.3 L2052.4 334.3 L2054 334.3 L2055.5 334.3 L2057 334.3 L2058.4 334.3 L2059.9 334.3 L2061.4 334.3 L2062.9 334.3 L2064.6 334.3 L2066.3 334.3 L2068.1 334.3 L2069.8 334.3 L2071.5 334.3 L2073.1 334.3 L2074.7 334.3 L2076.3 334.3 L2077.9 334.3 L2079.6 334.3 L2081.2 334.3 L2082.8 334.3 L2084.4 334.3 L2086 334.3 L2087.6 334.3 L2089.2 334.3 L2090.8 334.3 L2092.4 334.3 L2094.1 334.3 L2095.7 334.3 L2097.3 334.3 L2098.9 334.3 L2100.5 334.3 L2105 334.3 L2109.3 334.3 L2112 334.3 L2115.8 334.3 L2119.6 334.3 L2123.7 334.3 L2127.8 334.3 L2135.9 334.3 L2149.8 334.3 L2163.6 334.3 L2177.8 334.3 L2189.9 334.3 L2193.4 334.3 L2216.3 334.3 L2245.3 334.3 L2274.7 334.3 L2304.2 334.3 L2366.3 334.3" fill="none" stroke="#FF00FF" stroke-width="3"/>
<path d="M510.5 401.3 L548.5 379.3 L548.5 423.3 ZM573.5 407.5 L611.5 385.5 L611.5 429.5 ZM706 423.5 L744 401.5 L744 445.5 ZM898.5 450.4 L936.5 428.4 L936.5 472.4 ZM1071.5 479.6 L1109.5 457.6 L1109.5 501.6 ZM1255 516.8 L1293 494.8 L1293 538.8 ZM1395 554.3 L1433 532.3 L1433 576.3 ZM1437.5 568.5 L1475.5 546.5 L1475.5 590.5 ZM1562 622.4 L1600 600.4 L1600 644.4 ZM1661 691.2 L1699 669.2 L1699 713.2 ZM1732.8 776.2 L1770.8 754.2 L1770.8 798.2 ZM1791.3 894.7 L1829.3 872.7 L1829.3 916.7 ZM1803.1 927.5 L1841.1 905.5 L1841.1 949.5 ZM1842.7 1070.7 L1880.7 1048.7 L1880.7 1092.7 ZM1873.9 1215.6 L1911.9 1193.6 L1911.9 1237.6 ZM1898.1 1306 L1936.1 1284 L1936.1 1328 ZM1920.2 1256.8 L1958.2 1234.8 L1958.2 1278.8 ZM1934.4 1076.6 L1972.4 1054.6 L1972.4 1098.6 ZM1943.2 913.3 L1981.2 891.3 L1981.2 935.3 ZM1948.7 798 L1986.7 776 L1986.7 820 ZM1952.9 695.3 L1990.9 673.3 L1990.9 717.3 ZM1959.3 559.9 L1997.3 537.9 L1997.3 581.9 ZM1966.2 482.7 L2004.2 460.7 L2004.2 504.7 ZM1967.6 464 L2005.6 442 L2005.6 486 ZM1968.6 449.2 L2006.6 427.2 L2006.6 471.2 ZM1969.1 440.9 L2007.1 418.9 L2007.1 462.9 ZM1974.8 391.2 L2012.8 369.2 L2012.8 413.2 ZM1980.9 351.6 L2018.9 329.6 L2018.9 373.6 ZM1985.9 339.8 L2023.9 317.8 L2023.9 361.8 ZM1987.4 335.5 L2025.4 313.5 L2025.4 357.5 ZM1988.9 334.3 L2026.9 312.3 L2026.9 356.3 ZM1990.4 334.3 L2028.4 312.3 L2028.4 356.3 ZM1992 334.3 L2030 312.3 L2030 356.3 ZM1993.5 334.3 L2031.5 312.3 L2031.5 356.3 ZM1995 334.3 L2033 312.3 L2033 356.3 ZM1996.5 334.3 L2034.5 312.3 L2034.5 356.3 ZM1998.1 334.3 L2036.1 312.3 L2036.1 356.3 ZM1999.7 334.3 L2037.7 312.3 L2037.7 356.3 ZM2001.3 334.3 L2039.3 312.3 L2039.3 356.3 ZM2002.9 334.3 L2040.9 312.3 L2040.9 356.3 ZM2004.5 334.3 L2042.5 312.3 L2042.5 356.3 ZM2006.1 334.3 L2044.1 312.3 L2044.1 356.3 ZM2007.7 334.3 L2045.7 312.3 L2045.7 356.3 ZM2009.3 334.3 L2047.3 312.3 L2047.3 356.3 ZM2011.1 334.3 L2049.1 312.3 L2049.1 356.3 ZM2012.8 334.3 L2050.8 312.3 L2050.8 356.3 ZM2014.6 334.3 L2052.6 312.3 L2052.6 356.3 ZM2016.4 334.3 L2054.4 312.3 L2054.4 356.3 ZM2018 334.3 L2056 312.3 L2056 356.3 ZM2019.7 334.3 L2057.7 312.3 L2057.7 356.3 ZM2021.3 334.3 L2059.3 312.3 L2059.3 356.3 ZM2023 334.3 L2061 312.3 L2061 356.3 ZM2024.6 334.3 L2062.6 312.3 L2062.6 356.3 ZM2026.2 334.3 L2064.2 312.3 L2064.2 356.3 ZM2027.9 334.3 L2065.9 312.3 L2065.9 356.3 ZM2029.5 334.3 L2067.5 312.3 L2067.5 356.3 ZM2031 334.3 L2069 312.3 L2069 356.3 ZM2032.5 334.3 L2070.5 312.3 L2070.5 356.3 ZM2033.9 334.3 L2071.9 312.3 L2071.9 356.3 ZM2035.4 334.3 L2073.4 312.3 L2073.4 356.3 ZM2036.9 334.3 L2074.9 312.3 L2074.9 356.3 ZM2038.4 334.3 L2076.4 312.3 L2076.4 356.3 ZM2040.1 334.3 L2078.1 312.3 L2078.1 356.3 ZM2041.8 334.3 L2079.8 312.3 L2079.8 356.3 ZM2043.6 334.3 L2081.6 312.3 L2081.6 356.3 ZM2045.3 334.3 L2083.3 312.3 L2083.3 356.3 ZM2047 334.3 L2085 312.3 L2085 356.3 ZM2048.6 334.3 L2086.6 312.3 L2086.6 356.3 ZM2050.2 334.3 L2088.2 312.3 L2088.2 356.3 ZM2051.8 334.3 L2089.8 312.3 L2089.8 356.3 ZM2053.4 334.3 L2091.4 312.3 L2091.4 356.3 ZM2055.1 334.3 L2093.1 312.3 L2093.1 356.3 ZM2056.7 334.3 L2094.7 312.3 L2094.7 356.3 ZM2058.3 334.3 L2096.3 312.3 L2096.3 356.3 ZM2059.9 334.3 L2097.9 312.3 L2097.9 356.3 ZM2061.5 334.3 L2099.5 312.3 L2099.5 356.3 ZM2063.1 334.3 L2101.1 312.3 L2101.1 356.3 ZM2064.7 334.3 L2102.7 312.3 L2102.7 356.3 ZM2066.3 334.3 L2104.3 312.3 L2104.3 356.3 ZM2067.9 334.3 L2105.9 312.3 L2105.9 356.3 ZM2069.6 334.3 L2107.6 312.3 L2107.6 356.3 ZM2071.2 334.3 L2109.2 312.3 L2109.2 356.3 ZM2072.8 334.3 L2110.8 312.3 L2110.8 356.3 ZM2074.4 334.3 L2112.4 312.3 L2112.4 356.3 ZM2076 334.3 L2114 312.3 L2114 356.3 ZM2080.5 334.3 L2118.5 312.3 L2118.5 356.3 ZM2084.8 334.3 L2122.8 312.3 L2122.8 356.3 ZM2087.5 334.3 L2125.5 312.3 L2125.5 356.3 ZM2091.3 334.3 L2129.3 312.3 L2129.3 356.3 ZM2095.1 334.3 L2133.1 312.3 L2133.1 356.3 ZM2099.2 334.3 L2137.2 312.3 L2137.2 356.3 ZM2103.3 334.3 L2141.3 312.3 L2141.3 356.3 ZM2111.4 334.3 L2149.4 312.3 L2149.4 356.3 ZM2125.3 334.3 L2163.3 312.3 L2163.3 356.3 ZM2139.1 334.3 L2177.1 312.3 L2177.1 356.3 ZM2153.3 334.3 L2191.3 312.3 L2191.3 356.3 ZM2165.4 334.3 L2203.4 312.3 L2203.4 356.3 ZM2168.9 334.3 L2206.9 312.3 L2206.9 356.3 ZM2191.8 334.3 L2229.8 312.3 L2229.8 356.3 ZM2220.8 334.3 L2258.8 312.3 L2258.8 356.3 ZM2250.2 334.3 L2288.2 312.3 L2288.2 356.3 ZM2279.7 334.3 L2317.7 312.3 L2317.7 356.3 Z" fill="#FF00FF"/>
<path d="M442.2 356 L535 359 L598 362 L730.5 371.3 L923 388 L1096 408.8 L1279.5 439 L1419.5 470.7 L1462 483.6 L1586.5 526.3 L1685.5 572.2 L1757.3 612.3 L1815.8 642.8 L1827.6 646.5 L1867.2 646.5 L1898.4 612.4 L1922.6 545.3 L1944.7 455.9 L1958.9 401.7 L1967.7 373 L1973.2 358 L1977.4 349 L1983.8 342 L1990.7 337 L1992.1 335.5 L1993.1 334.8 L1993.6 334.3 L1999.3 334.3 L2005.4 334.3 L2010.4 334.3 L2011.9 334.3 L2013.4 334.3 L2014.9 334.3 L2016.5 334.3 L2018 334.3 L2019.5 334.3 L2021 334.3 L2022.6 334.3 L2024.2 334.3 L2025.8 334.3 L2027.4 334.3 L2029 334.3 L2030.6 334.3 L2032.2 334.3 L2033.8 334.3 L2035.6 334.3 L2037.3 334.3 L2039.1 334.3 L2040.9 334.3 L2042.5 334.3 L2044.2 334.3 L2045.8 334.3 L2047.5 334.3 L2049.1 334.3 L2050.7 334.3 L2052.4 334.3 L2054 334.3 L2055.5 334.3 L2057 334.3 L2058.4 334.3 L2059.9 334.3 L2061.4 334.3 L2062.9 334.3 L2064.6 334.3 L2066.3 334.3 L2068.1 334.3 L2069.8 334.3 L2071.5 334.3 L2073.1 334.3 L2074.7 334.3 L2076.3 334.3 L2077.9 334.3 L2079.6 334.3 L2081.2 334.3 L2082.8 334.3 L2084.4 334.3 L2086 334.3 L2087.6 334.3 L2089.2 334.3 L2090.8 334.3 L2092.4 334.3 L2094.1 334.3 L2095.7 334.3 L2097.3 334.3 L2098.9 334.3 L2100.5 334.3 L2105 334.3 L2109.3 334.3 L2112 334.3 L2115.8 334.3 L2119.6 334.3 L2123.7 334.3 L2127.8 334.3 L2135.9 334.3 L2149.8 334.3 L2163.6 334.3 L2177.8 334.3 L2189.9 334.3 L2193.4 334.3 L2216.3 334.3 L2245.3 334.3 L2274.7 334.3 L2304.2 334.3 L2366.3 334.3" fill="none" stroke="#808000" stroke-width="3"/>
<path d="M560 359 L522 337 L522 381 ZM623 362 L585 340 L585 384 ZM755.5 371.3 L717.5 349.3 L717.5 393.3 ZM948 388 L910 366 L910 410 ZM1121 408.8 L1083 386.8 L1083 430.8 ZM1304.5 439 L1266.5 417 L1266.5 461 ZM1444.5 470.7 L1406.5 448.7 L1406.5 492.7 ZM1487 483.6 L1449 461.6 L1449 505.6 ZM1611.5 526.3 L1573.5 504.3 L1573.5 548.3 ZM1710.5 572.2 L1672.5 550.2 L1672.5 594.2 ZM1782.3 612.3 L1744.3 590.3 L1744.3 634.3 ZM1840.8 642.8 L1802.8 620.8 L1802.8 664.8 ZM1852.6 646.5 L1814.6 624.5 L1814.6 668.5 ZM1892.2 646.5 L1854.2 624.5 L1854.2 668.5 ZM1923.4 612.4 L1885.4 590.4 L1885.4 634.4 ZM1947.6 545.3 L1909.6 523.3 L1909.6 567.3 ZM1969.7 455.9 L1931.7 433.9 L1931.7 477.9 ZM1983.9 401.7 L1945.9 379.7 L1945.9 423.7 ZM1992.7 373 L1954.7 351 L1954.7 395 ZM1998.2 358 L1960.2 336 L1960.2 380 ZM2002.4 349 L1964.4 327 L1964.4 371 ZM2008.8 342 L1970.8 320 L1970.8 364 ZM2015.7 337 L1977.7 315 L1977.7 359 ZM2017.1 335.5 L1979.1 313.5 L1979.1 357.5 ZM2018.1 334.8 L1980.1 312.8 L1980.1 356.8 ZM2018.6 334.3 L1980.6 312.3 L1980.6 356.3 ZM2024.3 334.3 L1986.3 312.3 L1986.3 356.3 ZM2030.4 334.3 L1992.4 312.3 L1992.4 356.3 ZM2035.4 334.3 L1997.4 312.3 L1997.4 356.3 ZM2036.9 334.3 L1998.9 312.3 L1998.9 356.3 ZM2038.4 334.3 L2000.4 312.3 L2000.4 356.3 ZM2039.9 334.3 L2001.9 312.3 L2001.9 356.3 ZM2041.5 334.3 L2003.5 312.3 L2003.5 356.3 ZM2043 334.3 L2005 312.3 L2005 356.3 ZM2044.5 334.3 L2006.5 312.3 L2006.5 356.3 ZM2046 334.3 L2008 312.3 L2008 356.3 ZM2047.6 334.3 L2009.6 312.3 L2009.6 356.3 ZM2049.2 334.3 L2011.2 312.3 L2011.2 356.3 ZM2050.8 334.3 L2012.8 312.3 L2012.8 356.3 ZM2052.4 334.3 L2014.4 312.3 L2014.4 356.3 ZM2054 334.3 L2016 312.3 L2016 356.3 ZM2055.6 334.3 L2017.6 312.3 L2017.6 356.3 ZM2057.2 334.3 L2019.2 312.3 L2019.2 356.3 ZM2058.8 334.3 L2020.8 312.3 L2020.8 356.3 ZM2060.6 334.3 L2022.6 312.3 L2022.6 356.3 ZM2062.3 334.3 L2024.3 312.3 L2024.3 356.3 ZM2064.1 334.3 L2026.1 312.3 L2026.1 356.3 ZM2065.9 334.3 L2027.9 312.3 L2027.9 356.3 ZM2067.5 334.3 L2029.5 312.3 L2029.5 356.3 ZM2069.2 334.3 L2031.2 312.3 L2031.2 356.3 ZM2070.8 334.3 L2032.8 312.3 L2032.8 356.3 ZM2072.4 334.3 L2034.5 312.3 L2034.5 356.3 ZM2074.1 334.3 L2036.1 312.3 L2036.1 356.3 ZM2075.7 334.3 L2037.7 312.3 L2037.7 356.3 ZM2077.4 334.3 L2039.4 312.3 L2039.4 356.3 ZM2079 334.3 L2041 312.3 L2041 356.3 ZM2080.5 334.3 L2042.5 312.3 L2042.5 356.3 ZM2082 334.3 L2044 312.3 L2044 356.3 ZM2083.4 334.3 L2045.4 312.3 L2045.4 356.3 ZM2084.9 334.3 L2046.9 312.3 L2046.9 356.3 ZM2086.4 334.3 L2048.4 312.3 L2048.4 356.3 ZM2087.9 334.3 L2049.9 312.3 L2049.9 356.3 ZM2089.6 334.3 L2051.6 312.3 L2051.6 356.3 ZM2091.3 334.3 L2053.3 312.3 L2053.3 356.3 ZM2093.1 334.3 L2055.1 312.3 L2055.1 356.3 ZM2094.8 334.3 L2056.8 312.3 L2056.8 356.3 ZM2096.5 334.3 L2058.5 312.3 L2058.5 356.3 ZM2098.1 334.3 L2060.1 312.3 L2060.1 356.3 ZM2099.7 334.3 L2061.7 312.3 L2061.7 356.3 ZM2101.3 334.3 L2063.3 312.3 L2063.3 356.3 ZM2102.9 334.3 L2064.9 312.3 L2064.9 356.3 ZM2104.6 334.3 L2066.6 312.3 L2066.6 356.3 ZM2106.2 334.3 L2068.2 312.3 L2068.2 356.3 ZM2107.8 334.3 L2069.8 312.3 L2069.8 356.3 ZM2109.4 334.3 L2071.4 312.3 L2071.4 356.3 ZM2111 334.3 L2073 312.3 L2073 356.3 ZM2112.6 334.3 L2074.6 312.3 L2074.6 356.3 ZM2114.2 334.3 L2076.2 312.3 L2076.2 356.3 ZM2115.8 334.3 L2077.8 312.3 L2077.8 356.3 ZM2117.4 334.3 L2079.4 312.3 L2079.4 356.3 ZM2119.1 334.3 L2081.1 312.3 L2081.1 356.3 ZM2120.7 334.3 L2082.7 312.3 L2082.7 356.3 ZM2122.3 334.3 L2084.3 312.3 L2084.3 356.3 ZM2123.9 334.3 L2085.9 312.3 L2085.9 356.3 ZM2125.5 334.3 L2087.5 312.3 L2087.5 356.3 ZM2130 334.3 L2092 312.3 L2092 356.3 ZM2134.3 334.3 L2096.3 312.3 L2096.3 356.3 ZM2137 334.3 L2099 312.3 L2099 356.3 ZM2140.8 334.3 L2102.8 312.3 L2102.8 356.3 ZM2144.6 334.3 L2106.6 312.3 L2106.6 356.3 ZM2148.7 334.3 L2110.7 312.3 L2110.7 356.3 ZM2152.8 334.3 L2114.8 312.3 L2114.8 356.3 ZM2160.9 334.3 L2122.9 312.3 L2122.9 356.3 ZM2174.8 334.3 L2136.8 312.3 L2136.8 356.3 ZM2188.6 334.3 L2150.6 312.3 L2150.6 356.3 ZM2202.8 334.3 L2164.8 312.3 L2164.8 356.3 ZM2214.9 334.3 L2176.9 312.3 L2176.9 356.3 ZM2218.4 334.3 L2180.4 312.3 L2180.4 356.3 ZM2241.3 334.3 L2203.3 312.3 L2203.3 356.3 ZM2270.3 334.3 L2232.3 312.3 L2232.3 356.3 ZM2299.7 334.3 L2261.7 312.3 L2261.7 356.3 ZM2329.2 334.3 L2291.2 312.3 L2291.2 356.3 Z" fill="#808000"/>
<path d="M442.2 359.9 L535 364 L598 368.1 L730.5 377.5 L923 397.3 L1096 421.4 L1279.5 457.6 L1419.5 495.5 L1462 509.2 L1586.5 560.4 L1685.5 612.4 L1757.3 661 L1815.8 697.7 L1827.6 701.8 L1867.2 701.8 L1898.4 659.2 L1922.6 582.8 L1944.7 476.9 L1958.9 409.7 L1967.7 378.2 L1973.2 362.2 L1977.4 352 L1983.8 344 L1990.7 339 L1992.1 336 L1993.1 335 L1993.6 334.3 L1999.3 334.3 L2005.4 334.3 L2010.4 334.3 L2011.9 334.3 L2013.4 334.3 L2014.9 334.3 L2016.5 334.3 L2018 334.3 L2019.5 334.3 L2021 334.3 L2022.6 334.3 L2024.2 334.3 L2025.8 334.3 L2027.4 334.3 L2029 334.3 L2030.6 334.3 L2032.2 334.3 L2033.8 334.3 L2035.6 334.3 L2037.3 334.3 L2039.1 334.3 L2040.9 334.3 L2042.5 334.3 L2044.2 334.3 L2045.8 334.3 L2047.5 334.3 L2049.1 334.3 L2050.7 334.3 L2052.4 334.3 L2054 334.3 L2055.5 334.3 L2057 334.3 L2058.4 334.3 L2059.9 334.3 L2061.4 334.3 L2062.9 334.3 L2064.6 334.3 L2066.3 334.3 L2068.1 334.3 L2069.8 334.3 L2071.5 334.3 L2073.1 334.3 L2074.7 334.3 L2076.3 334.3 L2077.9 334.3 L2079.6 334.3 L2081.2 334.3 L2082.8 334.3 L2084.4 334.3 L2086 334.3 L2087.6 334.3 L2089.2 334.3 L2090.8 334.3 L2092.4 334.3 L2094.1 334.3 L2095.7 334.3 L2097.3 334.3 L2098.9 334.3 L2100.5 334.3 L2105 334.3 L2109.3 334.3 L2112 334.3 L2115.8 334.3 L2119.6 334.3 L2123.7 334.3 L2127.8 334.3 L2135.9 334.3 L2149.8 334.3 L2163.6 334.3 L2177.8 334.3 L2189.9 334.3 L2193.4 334.3 L2216.3 334.3 L2245.3 334.3 L2274.7 334.3 L2304.2 334.3 L2366.3 334.3" fill="none" stroke="#000080" stroke-width="3"/>
<path d="M535 341.2 L557.8 364 L535 386.8 L512.2 364 ZM598 345.3 L620.8 368.1 L598 390.9 L575.2 368.1 ZM730.5 354.7 L753.3 377.5 L730.5 400.3 L707.7 377.5 ZM923 374.5 L945.8 397.3 L923 420.1 L900.2 397.3 ZM1096 398.6 L1118.8 421.4 L1096 444.2 L1073.2 421.4 ZM1279.5 434.8 L1302.3 457.6 L1279.5 480.4 L1256.7 457.6 ZM1419.5 472.7 L1442.3 495.5 L1419.5 518.3 L1396.7 495.5 ZM1462 486.4 L1484.8 509.2 L1462 532 L1439.2 509.2 ZM1586.5 537.6 L1609.3 560.4 L1586.5 583.2 L1563.7 560.4 ZM1685.5 589.6 L1708.3 612.4 L1685.5 635.2 L1662.7 612.4 ZM1757.3 638.2 L1780.1 661 L1757.3 683.8 L1734.5 661 ZM1815.8 674.9 L1838.6 697.7 L1815.8 720.5 L1793 697.7 ZM1827.6 679 L1850.4 701.8 L1827.6 724.6 L1804.8 701.8 ZM1867.2 679 L1890 701.8 L1867.2 724.6 L1844.4 701.8 ZM1898.4 636.4 L1921.2 659.2 L1898.4 682 L1875.6 659.2 ZM1922.6 560 L1945.4 582.8 L1922.6 605.6 L1899.8 582.8 ZM1944.7 454.1 L1967.5 476.9 L1944.7 499.7 L1921.9 476.9 ZM1958.9 386.9 L1981.7 409.7 L1958.9 432.5 L1936.1 409.7 ZM1967.7 355.4 L1990.5 378.2 L1967.7 401 L1944.9 378.2 ZM1973.2 339.4 L1996 362.2 L1973.2 385 L1950.4 362.2 ZM1977.4 329.2 L2000.2 352 L1977.4 374.8 L1954.6 352 ZM1983.8 321.2 L2006.6 344 L1983.8 366.8 L1961 344 ZM1990.7 316.2 L2013.5 339 L1990.7 361.8 L1967.9 339 ZM1992.1 313.2 L2014.9 336 L1992.1 358.8 L1969.3 336 ZM1993.1 312.2 L2015.9 335 L1993.1 357.8 L1970.3 335 ZM1993.6 311.5 L2016.4 334.3 L1993.6 357.1 L1970.8 334.3 ZM1999.3 311.5 L2022.1 334.3 L1999.3 357.1 L1976.5 334.3 ZM2005.4 311.5 L2028.2 334.3 L2005.4 357.1 L1982.6 334.3 ZM2010.4 311.5 L2033.2 334.3 L2010.4 357.1 L1987.6 334.3 ZM2011.9 311.5 L2034.7 334.3 L2011.9 357.1 L1989.1 334.3 ZM2013.4 311.5 L2036.2 334.3 L2013.4 357.1 L1990.6 334.3 ZM2014.9 311.5 L2037.7 334.3 L2014.9 357.1 L1992.1 334.3 ZM2016.5 311.5 L2039.3 334.3 L2016.5 357.1 L1993.7 334.3 ZM2018 311.5 L2040.8 334.3 L2018 357.1 L1995.2 334.3 ZM2019.5 311.5 L2042.3 334.3 L2019.5 357.1 L1996.7 334.3 ZM2021 311.5 L2043.8 334.3 L2021 357.1 L1998.2 334.3 ZM2022.6 311.5 L2045.4 334.3 L2022.6 357.1 L1999.8 334.3 ZM2024.2 311.5 L2047 334.3 L2024.2 357.1 L2001.4 334.3 ZM2025.8 311.5 L2048.6 334.3 L2025.8 357.1 L2003 334.3 ZM2027.4 311.5 L2050.2 334.3 L2027.4 357.1 L2004.6 334.3 ZM2029 311.5 L2051.8 334.3 L2029 357.1 L2006.2 334.3 ZM2030.6 311.5 L2053.4 334.3 L2030.6 357.1 L2007.8 334.3 ZM2032.2 311.5 L2055 334.3 L2032.2 357.1 L2009.4 334.3 ZM2033.8 311.5 L2056.6 334.3 L2033.8 357.1 L2011 334.3 ZM2035.6 311.5 L2058.4 334.3 L2035.6 357.1 L2012.8 334.3 ZM2037.3 311.5 L2060.2 334.3 L2037.3 357.1 L2014.5 334.3 ZM2039.1 311.5 L2061.9 334.3 L2039.1 357.1 L2016.3 334.3 ZM2040.9 311.5 L2063.7 334.3 L2040.9 357.1 L2018.1 334.3 ZM2042.5 311.5 L2065.3 334.3 L2042.5 357.1 L2019.7 334.3 ZM2044.2 311.5 L2067 334.3 L2044.2 357.1 L2021.4 334.3 ZM2045.8 311.5 L2068.6 334.3 L2045.8 357.1 L2023 334.3 ZM2047.5 311.5 L2070.2 334.3 L2047.5 357.1 L2024.7 334.3 ZM2049.1 311.5 L2071.9 334.3 L2049.1 357.1 L2026.3 334.3 ZM2050.7 311.5 L2073.5 334.3 L2050.7 357.1 L2027.9 334.3 ZM2052.4 311.5 L2075.2 334.3 L2052.4 357.1 L2029.6 334.3 ZM2054 311.5 L2076.8 334.3 L2054 357.1 L2031.2 334.3 ZM2055.5 311.5 L2078.3 334.3 L2055.5 357.1 L2032.7 334.3 ZM2057 311.5 L2079.8 334.3 L2057 357.1 L2034.2 334.3 ZM2058.4 311.5 L2081.2 334.3 L2058.4 357.1 L2035.6 334.3 ZM2059.9 311.5 L2082.7 334.3 L2059.9 357.1 L2037.1 334.3 ZM2061.4 311.5 L2084.2 334.3 L2061.4 357.1 L2038.6 334.3 ZM2062.9 311.5 L2085.7 334.3 L2062.9 357.1 L2040.1 334.3 ZM2064.6 311.5 L2087.4 334.3 L2064.6 357.1 L2041.8 334.3 ZM2066.3 311.5 L2089.1 334.3 L2066.3 357.1 L2043.5 334.3 ZM2068.1 311.5 L2090.9 334.3 L2068.1 357.1 L2045.3 334.3 ZM2069.8 311.5 L2092.6 334.3 L2069.8 357.1 L2047 334.3 ZM2071.5 311.5 L2094.3 334.3 L2071.5 357.1 L2048.7 334.3 ZM2073.1 311.5 L2095.9 334.3 L2073.1 357.1 L2050.3 334.3 ZM2074.7 311.5 L2097.5 334.3 L2074.7 357.1 L2051.9 334.3 ZM2076.3 311.5 L2099.1 334.3 L2076.3 357.1 L2053.5 334.3 ZM2077.9 311.5 L2100.7 334.3 L2077.9 357.1 L2055.1 334.3 ZM2079.6 311.5 L2102.4 334.3 L2079.6 357.1 L2056.8 334.3 ZM2081.2 311.5 L2104 334.3 L2081.2 357.1 L2058.4 334.3 ZM2082.8 311.5 L2105.6 334.3 L2082.8 357.1 L2060 334.3 ZM2084.4 311.5 L2107.2 334.3 L2084.4 357.1 L2061.6 334.3 ZM2086 311.5 L2108.8 334.3 L2086 357.1 L2063.2 334.3 ZM2087.6 311.5 L2110.4 334.3 L2087.6 357.1 L2064.8 334.3 ZM2089.2 311.5 L2112 334.3 L2089.2 357.1 L2066.4 334.3 ZM2090.8 311.5 L2113.6 334.3 L2090.8 357.1 L2068 334.3 ZM2092.4 311.5 L2115.2 334.3 L2092.4 357.1 L2069.6 334.3 ZM2094.1 311.5 L2116.9 334.3 L2094.1 357.1 L2071.3 334.3 ZM2095.7 311.5 L2118.5 334.3 L2095.7 357.1 L2072.9 334.3 ZM2097.3 311.5 L2120.1 334.3 L2097.3 357.1 L2074.5 334.3 ZM2098.9 311.5 L2121.7 334.3 L2098.9 357.1 L2076.1 334.3 ZM2100.5 311.5 L2123.3 334.3 L2100.5 357.1 L2077.7 334.3 ZM2105 311.5 L2127.8 334.3 L2105 357.1 L2082.2 334.3 ZM2109.3 311.5 L2132.1 334.3 L2109.3 357.1 L2086.5 334.3 ZM2112 311.5 L2134.8 334.3 L2112 357.1 L2089.2 334.3 ZM2115.8 311.5 L2138.6 334.3 L2115.8 357.1 L2093 334.3 ZM2119.6 311.5 L2142.4 334.3 L2119.6 357.1 L2096.8 334.3 ZM2123.7 311.5 L2146.5 334.3 L2123.7 357.1 L2100.9 334.3 ZM2127.8 311.5 L2150.6 334.3 L2127.8 357.1 L2105 334.3 ZM2135.9 311.5 L2158.7 334.3 L2135.9 357.1 L2113.1 334.3 ZM2149.8 311.5 L2172.6 334.3 L2149.8 357.1 L2127 334.3 ZM2163.6 311.5 L2186.4 334.3 L2163.6 357.1 L2140.8 334.3 ZM2177.8 311.5 L2200.6 334.3 L2177.8 357.1 L2155 334.3 ZM2189.9 311.5 L2212.7 334.3 L2189.9 357.1 L2167.1 334.3 ZM2193.4 311.5 L2216.2 334.3 L2193.4 357.1 L2170.6 334.3 ZM2216.3 311.5 L2239.1 334.3 L2216.3 357.1 L2193.5 334.3 ZM2245.3 311.5 L2268.1 334.3 L2245.3 357.1 L2222.5 334.3 ZM2274.7 311.5 L2297.5 334.3 L2274.7 357.1 L2251.9 334.3 ZM2304.2 311.5 L2327 334.3 L2304.2 357.1 L2281.4 334.3 Z" fill="#000080"/>
<path d="M442.2 334.6 L535 335.1 L598 335.5 L730.5 336.3 L923 337.4 L1096 339 L1279.5 340.7 L1419.5 342.5 L1462 343.1 L1586.5 347.7 L1685.5 350.8 L1757.3 353 L1815.8 356 L1827.6 357 L1867.2 359.5 L1898.4 355.5 L1922.6 352 L1944.7 345 L1958.9 341 L1967.7 338.4 L1973.2 336.5 L1977.4 335.5 L1983.8 334.8 L1990.7 334.3 L1992.1 334.3 L1993.1 334.3 L1993.6 334.3 L1999.3 334.3 L2005.4 334.3 L2010.4 334.3 L2011.9 334.3 L2013.4 334.3 L2014.9 334.3 L2016.5 334.3 L2018 334.3 L2019.5 334.3 L2021 334.3 L2022.6 334.3 L2024.2 334.3 L2025.8 334.3 L2027.4 334.3 L2029 334.3 L2030.6 334.3 L2032.2 334.3 L2033.8 334.3 L2035.6 334.3 L2037.3 334.3 L2039.1 334.3 L2040.9 334.3 L2042.5 334.3 L2044.2 334.3 L2045.8 334.3 L2047.5 334.3 L2049.1 334.3 L2050.7 334.3 L2052.4 334.3 L2054 334.3 L2055.5 334.3 L2057 334.3 L2058.4 334.3 L2059.9 334.3 L2061.4 334.3 L2062.9 334.3 L2064.6 334.3 L2066.3 334.3 L2068.1 334.3 L2069.8 334.3 L2071.5 334.3 L2073.1 334.3 L2074.7 334.3 L2076.3 334.3 L2077.9 334.3 L2079.6 334.3 L2081.2 334.3 L2082.8 334.3 L2084.4 334.3 L2086 334.3 L2087.6 334.3 L2089.2 334.3 L2090.8 334.3 L2092.4 334.3 L2094.1 334.3 L2095.7 334.3 L2097.3 334.3 L2098.9 334.3 L2100.5 334.3 L2105 334.3 L2109.3 334.3 L2112 334.3 L2115.8 334.3 L2119.6 334.3 L2123.7 334.3 L2127.8 334.3 L2135.9 334.3 L2149.8 334.3 L2163.6 334.3 L2177.8 334.3 L2189.9 334.3 L2193.4 334.3 L2216.3 334.3 L2245.3 334.3 L2274.7 334.3 L2304.2 334.3 L2366.3 334.3" fill="none" stroke="#960000" stroke-width="3"/>
<path d="M923 315.9 L943.4 330.8 L935.6 354.8 L910.4 354.8 L902.6 330.8 ZM1586.5 326.2 L1606.9 341.1 L1599.1 365.1 L1573.9 365.1 L1566.1 341.1 ZM1867.2 338 L1887.6 352.9 L1879.8 376.9 L1854.6 376.9 L1846.8 352.9 ZM1967.7 316.9 L1988.1 331.8 L1980.3 355.8 L1955.1 355.8 L1947.3 331.8 ZM1992.1 312.8 L2012.5 327.7 L2004.7 351.7 L1979.5 351.7 L1971.7 327.7 ZM2010.4 312.8 L2030.8 327.7 L2023 351.7 L1997.8 351.7 L1990 327.7 ZM2018 312.8 L2038.4 327.7 L2030.6 351.7 L2005.3 351.7 L1997.5 327.7 ZM2025.8 312.8 L2046.2 327.7 L2038.4 351.7 L2013.2 351.7 L2005.4 327.7 ZM2033.8 312.8 L2054.2 327.7 L2046.4 351.7 L2021.2 351.7 L2013.4 327.7 ZM2042.5 312.8 L2063 327.7 L2055.2 351.7 L2029.9 351.7 L2022.1 327.7 ZM2050.7 312.8 L2071.2 327.7 L2063.4 351.7 L2038.1 351.7 L2030.3 327.7 ZM2058.4 312.8 L2078.9 327.7 L2071.1 351.7 L2045.8 351.7 L2038 327.7 ZM2066.3 312.8 L2086.8 327.7 L2079 351.7 L2053.7 351.7 L2045.9 327.7 ZM2074.7 312.8 L2095.2 327.7 L2087.4 351.7 L2062.1 351.7 L2054.3 327.7 ZM2082.8 312.8 L2103.2 327.7 L2095.4 351.7 L2070.1 351.7 L2062.3 327.7 ZM2090.8 312.8 L2111.3 327.7 L2103.5 351.7 L2078.2 351.7 L2070.4 327.7 ZM2098.9 312.8 L2119.3 327.7 L2111.5 351.7 L2086.3 351.7 L2078.4 327.7 ZM2115.8 312.8 L2136.2 327.7 L2128.4 351.7 L2103.2 351.7 L2095.4 327.7 ZM2135.9 312.8 L2156.3 327.7 L2148.5 351.7 L2123.3 351.7 L2115.5 327.7 Z" fill="#960000"/>
<path d="M442.2 336.5 L535 337 L598 337.3 L730.5 338 L923 339.1 L1096 340 L1279.5 343.1 L1419.5 345 L1462 345.5 L1586.5 348.4 L1685.5 351.2 L1757.3 353.2 L1815.8 359 L1827.6 359 L1867.2 358 L1898.4 353 L1922.6 349 L1944.7 342.5 L1958.9 339 L1967.7 337 L1973.2 336 L1977.4 335.3 L1983.8 334.8 L1990.7 334.3 L1992.1 334.3 L1993.1 334.3 L1993.6 334.3 L1999.3 334.3 L2005.4 334.3 L2010.4 334.3 L2011.9 334.3 L2013.4 334.3 L2014.9 334.3 L2016.5 334.3 L2018 334.3 L2019.5 334.3 L2021 334.3 L2022.6 334.3 L2024.2 334.3 L2025.8 334.3 L2027.4 334.3 L2029 334.3 L2030.6 334.3 L2032.2 334.3 L2033.8 334.3 L2035.6 334.3 L2037.3 334.3 L2039.1 334.3 L2040.9 334.3 L2042.5 334.3 L2044.2 334.3 L2045.8 334.3 L2047.5 334.3 L2049.1 334.3 L2050.7 334.3 L2052.4 334.3 L2054 334.3 L2055.5 334.3 L2057 334.3 L2058.4 334.3 L2059.9 334.3 L2061.4 334.3 L2062.9 334.3 L2064.6 334.3 L2066.3 334.3 L2068.1 334.3 L2069.8 334.3 L2071.5 334.3 L2073.1 334.3 L2074.7 334.3 L2076.3 334.3 L2077.9 334.3 L2079.6 334.3 L2081.2 334.3 L2082.8 334.3 L2084.4 334.3 L2086 334.3 L2087.6 334.3 L2089.2 334.3 L2090.8 334.3 L2092.4 334.3 L2094.1 334.3 L2095.7 334.3 L2097.3 334.3 L2098.9 334.3 L2100.5 334.3 L2105 334.3 L2109.3 334.3 L2112 334.3 L2115.8 334.3 L2119.6 334.3 L2123.7 334.3 L2127.8 334.3 L2135.9 334.3 L2149.8 334.3 L2163.6 334.3 L2177.8 334.3 L2189.9 334.3 L2193.4 334.3 L2216.3 334.3 L2245.3 334.3 L2274.7 334.3 L2304.2 334.3 L2366.3 334.3" fill="none" stroke="#FF0080" stroke-width="3"/>
<path d="M1096 319.9 L1113.4 329.9 L1113.4 350.1 L1096 360.1 L1078.6 350.1 L1078.6 329.9 ZM1757.3 333.1 L1774.7 343.1 L1774.7 363.2 L1757.3 373.3 L1739.9 363.2 L1739.9 343.1 ZM1944.7 322.4 L1962.1 332.4 L1962.1 352.6 L1944.7 362.6 L1927.3 352.6 L1927.3 332.4 ZM1990.7 314.2 L2008.1 324.3 L2008.1 344.4 L1990.7 354.4 L1973.3 344.4 L1973.3 324.3 ZM2021 314.2 L2038.4 324.3 L2038.4 344.4 L2021 354.4 L2003.6 344.4 L2003.6 324.3 ZM2033.8 314.2 L2051.2 324.3 L2051.2 344.4 L2033.8 354.4 L2016.4 344.4 L2016.4 324.3 ZM2040.9 314.2 L2058.3 324.3 L2058.3 344.4 L2040.9 354.4 L2023.5 344.4 L2023.5 324.3 ZM2054 314.2 L2071.4 324.3 L2071.4 344.4 L2054 354.4 L2036.6 344.4 L2036.6 324.3 ZM2062.9 314.2 L2080.3 324.3 L2080.3 344.4 L2062.9 354.4 L2045.5 344.4 L2045.5 324.3 ZM2071.5 314.2 L2088.9 324.3 L2088.9 344.4 L2071.5 354.4 L2054.1 344.4 L2054.1 324.3 ZM2086 314.2 L2103.4 324.3 L2103.4 344.4 L2086 354.4 L2068.6 344.4 L2068.6 324.3 ZM2100.5 314.2 L2117.9 324.3 L2117.9 344.4 L2100.5 354.4 L2083.1 344.4 L2083.1 324.3 ZM2127.8 314.2 L2145.2 324.3 L2145.2 344.4 L2127.8 354.4 L2110.4 344.4 L2110.4 324.3 ZM2193.4 314.2 L2210.8 324.3 L2210.8 344.4 L2193.4 354.4 L2176 344.4 L2176 324.3 Z" fill="#FF0080"/>
<path d="M442.2 339.5 L535 340.2 L598 340.7 L730.5 341.7 L923 343.3 L1096 344.6 L1279.5 345.9 L1419.5 347.2 L1462 347.6 L1586.5 348.7 L1685.5 349.6 L1757.3 350.2 L1815.8 348.5 L1827.6 348 L1867.2 346 L1898.4 343.5 L1922.6 341 L1944.7 338.2 L1958.9 337 L1967.7 336 L1973.2 335.5 L1977.4 335 L1983.8 334.8 L1990.7 334.5 L1992.1 334.5 L1993.1 334.5 L1993.6 334.4 L1999.3 334.3 L2005.4 334.3 L2010.4 334.3 L2011.9 334.3 L2013.4 334.3 L2014.9 334.3 L2016.5 334.3 L2018 334.3 L2019.5 334.3 L2021 334.3 L2022.6 334.3 L2024.2 334.3 L2025.8 334.3 L2027.4 334.3 L2029 334.3 L2030.6 334.3 L2032.2 334.3 L2033.8 334.3 L2035.6 334.3 L2037.3 334.3 L2039.1 334.3 L2040.9 334.3 L2042.5 334.3 L2044.2 334.3 L2045.8 334.3 L2047.5 334.3 L2049.1 334.3 L2050.7 334.3 L2052.4 334.3 L2054 334.3 L2055.5 334.3 L2057 334.3 L2058.4 334.3 L2059.9 334.3 L2061.4 334.3 L2062.9 334.3 L2064.6 334.3 L2066.3 334.3 L2068.1 334.3 L2069.8 334.3 L2071.5 334.3 L2073.1 334.3 L2074.7 334.3 L2076.3 334.3 L2077.9 334.3 L2079.6 334.3 L2081.2 334.3 L2082.8 334.3 L2084.4 334.3 L2086 334.3 L2087.6 334.3 L2089.2 334.3 L2090.8 334.3 L2092.4 334.3 L2094.1 334.3 L2095.7 334.3 L2097.3 334.3 L2098.9 334.3 L2100.5 334.3 L2105 334.3 L2109.3 334.3 L2112 334.3 L2115.8 334.3 L2119.6 334.3 L2123.7 334.3 L2127.8 334.3 L2135.9 334.3 L2149.8 334.3 L2163.6 334.3 L2177.8 334.3 L2189.9 334.3 L2193.4 334.3 L2216.3 334.3 L2245.3 334.3 L2274.7 334.3 L2304.2 334.3 L2366.3 334.3" fill="none" stroke="#008000" stroke-width="3"/>
<path d="M1096 323.6 L1101.9 336.4 L1116 338.1 L1105.6 347.7 L1108.3 361.6 L1096 354.7 L1083.7 361.6 L1086.4 347.7 L1076 338.1 L1090.1 336.4 ZM1757.3 329.2 L1763.2 342 L1777.3 343.7 L1766.9 353.3 L1769.6 367.2 L1757.3 360.3 L1745 367.2 L1747.7 353.3 L1737.3 343.7 L1751.4 342 ZM1944.7 317.2 L1950.6 330 L1964.7 331.7 L1954.3 341.3 L1957 355.2 L1944.7 348.3 L1932.4 355.2 L1935.1 341.3 L1924.7 331.7 L1938.8 330 ZM1990.7 313.5 L1996.6 326.3 L2010.7 328 L2000.3 337.6 L2003 351.5 L1990.7 344.6 L1978.4 351.5 L1981.1 337.6 L1970.7 328 L1984.8 326.3 ZM2021 313.3 L2026.9 326.2 L2041 327.8 L2030.6 337.4 L2033.3 351.3 L2021 344.4 L2008.7 351.3 L2011.4 337.4 L2001 327.8 L2015.1 326.2 ZM2033.8 313.3 L2039.7 326.2 L2053.8 327.8 L2043.4 337.4 L2046.1 351.3 L2033.8 344.4 L2021.5 351.3 L2024.2 337.4 L2013.8 327.8 L2027.9 326.2 ZM2040.9 313.3 L2046.8 326.2 L2060.9 327.8 L2050.5 337.4 L2053.2 351.3 L2040.9 344.4 L2028.6 351.3 L2031.3 337.4 L2020.9 327.8 L2035 326.2 ZM2054 313.3 L2059.9 326.2 L2074 327.8 L2063.6 337.4 L2066.3 351.3 L2054 344.4 L2041.7 351.3 L2044.4 337.4 L2034 327.8 L2048.1 326.2 ZM2062.9 313.3 L2068.8 326.2 L2082.9 327.8 L2072.5 337.4 L2075.2 351.3 L2062.9 344.4 L2050.6 351.3 L2053.3 337.4 L2042.9 327.8 L2057 326.2 ZM2071.5 313.3 L2077.4 326.2 L2091.5 327.8 L2081.1 337.4 L2083.8 351.3 L2071.5 344.4 L2059.2 351.3 L2061.9 337.4 L2051.5 327.8 L2065.6 326.2 ZM2086 313.3 L2091.9 326.2 L2106 327.8 L2095.6 337.4 L2098.3 351.3 L2086 344.4 L2073.7 351.3 L2076.4 337.4 L2066 327.8 L2080.1 326.2 ZM2100.5 313.3 L2106.4 326.2 L2120.5 327.8 L2110.1 337.4 L2112.8 351.3 L2100.5 344.4 L2088.2 351.3 L2090.9 337.4 L2080.5 327.8 L2094.6 326.2 ZM2127.8 313.3 L2133.7 326.2 L2147.8 327.8 L2137.4 337.4 L2140.1 351.3 L2127.8 344.4 L2115.5 351.3 L2118.2 337.4 L2107.8 327.8 L2121.9 326.2 ZM2193.4 313.3 L2199.3 326.2 L2213.4 327.8 L2203 337.4 L2205.7 351.3 L2193.4 344.4 L2181.1 351.3 L2183.8 337.4 L2173.4 327.8 L2187.5 326.2 Z" fill="#008000"/>
</g>
<rect x="545.4" y="547.9" width="116.3" height="3" fill="#000000"/><path d="M587.1 532.9 L620.1 532.9 L620.1 565.9 L587.1 565.9 Z" fill="#000000"/><rect x="545.4" y="633.8" width="116.3" height="3" fill="#FF0000"/><path d="M585.1 635.3a18.5 18.5 0 1 0 37.0 0a18.5 18.5 0 1 0 -37.0 0Z" fill="#FF0000"/><rect x="545.4" y="719.6" width="116.3" height="3" fill="#0000FF"/><path d="M603.6 695.8 L625.6 733.8 L581.6 733.8 Z" fill="#0000FF"/><rect x="545.4" y="805.5" width="116.3" height="3" fill="#008080"/><path d="M603.6 832.3 L625.6 794.3 L581.6 794.3 Z" fill="#008080"/><rect x="545.4" y="891.4" width="116.3" height="3" fill="#FF00FF"/><path d="M579.1 892.9 L617.1 870.9 L617.1 914.9 Z" fill="#FF00FF"/><rect x="545.4" y="977.2" width="116.3" height="3" fill="#808000"/><path d="M628.6 978.8 L590.6 956.8 L590.6 1000.8 Z" fill="#808000"/><rect x="545.4" y="1063.1" width="116.3" height="3" fill="#000080"/><path d="M603.6 1041.8 L626.4 1064.6 L603.6 1087.4 L580.8 1064.6 Z" fill="#000080"/><rect x="545.4" y="1149" width="116.3" height="3" fill="#960000"/><path d="M603.6 1129 L624 1143.8 L616.2 1167.9 L591 1167.9 L583.2 1143.8 Z" fill="#960000"/><rect x="545.4" y="1234.9" width="116.3" height="3" fill="#FF0080"/><path d="M603.6 1216.3 L621 1226.3 L621 1246.4 L603.6 1256.5 L586.2 1246.4 L586.2 1226.3 Z" fill="#FF0080"/><rect x="545.4" y="1320.7" width="116.3" height="3" fill="#008000"/><path d="M603.6 1301.2 L609.5 1314.1 L623.6 1315.7 L613.2 1325.3 L615.9 1339.2 L603.6 1332.3 L591.3 1339.2 L594 1325.3 L583.6 1315.7 L597.7 1314.1 Z" fill="#008000"/>
<text transform="translate(659.7 565.8) scale(1 1.06)" font-family='"Liberation Serif", "Times New Roman", serif' font-size="69.8">R3287</text>
<text transform="translate(659.7 651.7) scale(1 1.06)" font-family='"Liberation Serif", "Times New Roman", serif' font-size="69.8">R3289</text>
<text transform="translate(659.7 737.5) scale(1 1.06)" font-family='"Liberation Serif", "Times New Roman", serif' font-size="69.8">R3576</text>
<text transform="translate(659.7 823.4) scale(1 1.06)" font-family='"Liberation Serif", "Times New Roman", serif' font-size="69.8">R3577</text>
<text transform="translate(659.7 909.3) scale(1 1.06)" font-family='"Liberation Serif", "Times New Roman", serif' font-size="69.8">R3601</text>
<text transform="translate(659.7 995.1) scale(1 1.06)" font-family='"Liberation Serif", "Times New Roman", serif' font-size="69.8">R3609</text>
<text transform="translate(659.7 1081) scale(1 1.06)" font-family='"Liberation Serif", "Times New Roman", serif' font-size="69.8">R3610</text>
<text transform="translate(659.7 1166.9) scale(1 1.06)" font-family='"Liberation Serif", "Times New Roman", serif' font-size="69.8">R3614</text>
<text transform="translate(659.7 1252.8) scale(1 1.06)" font-family='"Liberation Serif", "Times New Roman", serif' font-size="69.8">R3615</text>
<text transform="translate(659.7 1338.6) scale(1 1.06)" font-family='"Liberation Serif", "Times New Roman", serif' font-size="69.8">R3620</text>
<g font-family='"Liberation Serif", "Times New Roman", serif' fill="#000"><text x="204.69 236.47 252.68" y="171" font-size="66.5" transform="scale(0.94 1)">1.0</text><text x="270.21" y="171" font-size="60.5">×</text><text x="327.03 357.68" y="171" font-size="66.5" transform="scale(0.94 1)">10</text><text transform="translate(370.22 139.14) scale(1.39 0.8)" font-size="43">−</text><text x="406.05" y="142" font-size="43">6</text><text transform="translate(129.19 551.11) scale(1.39 0.62)" font-size="66.5">−</text><text x="197.24 229.02 245.23" y="560.2" font-size="66.5" transform="scale(0.94 1)">1.0</text><text x="263.21" y="560.2" font-size="60.5">×</text><text x="319.58 350.23" y="560.2" font-size="66.5" transform="scale(0.94 1)">10</text><text transform="translate(363.22 528.34) scale(1.39 0.8)" font-size="43">−</text><text x="399.05" y="531.2" font-size="43">6</text><text transform="translate(129.19 749.11) scale(1.39 0.62)" font-size="66.5">−</text><text x="192.82 229.02 245.23" y="758.2" font-size="66.5" transform="scale(0.94 1)">2.0</text><text x="263.21" y="758.2" font-size="60.5">×</text><text x="319.58 350.23" y="758.2" font-size="66.5" transform="scale(0.94 1)">10</text><text transform="translate(363.22 726.34) scale(1.39 0.8)" font-size="43">−</text><text x="399.05" y="729.2" font-size="43">6</text><text transform="translate(129.19 978.61) scale(1.39 0.62)" font-size="66.5">−</text><text x="195.86 229.02 245.23" y="987.7" font-size="66.5" transform="scale(0.94 1)">3.0</text><text x="263.21" y="987.7" font-size="60.5">×</text><text x="319.58 350.23" y="987.7" font-size="66.5" transform="scale(0.94 1)">10</text><text transform="translate(363.22 955.84) scale(1.39 0.8)" font-size="43">−</text><text x="399.05" y="958.7" font-size="43">6</text><text transform="translate(129.19 1176.61) scale(1.39 0.62)" font-size="66.5">−</text><text x="194.45 229.02 245.23" y="1185.7" font-size="66.5" transform="scale(0.94 1)">4.0</text><text x="263.21" y="1185.7" font-size="60.5">×</text><text x="319.58 350.23" y="1185.7" font-size="66.5" transform="scale(0.94 1)">10</text><text transform="translate(363.22 1153.84) scale(1.39 0.8)" font-size="43">−</text><text x="399.05" y="1156.7" font-size="43">6</text><text transform="translate(129.19 1374.61) scale(1.39 0.62)" font-size="66.5">−</text><text x="194.11 229.02 245.23" y="1383.7" font-size="66.5" transform="scale(0.94 1)">5.0</text><text x="263.21" y="1383.7" font-size="60.5">×</text><text x="319.58 350.23" y="1383.7" font-size="66.5" transform="scale(0.94 1)">10</text><text transform="translate(363.22 1351.84) scale(1.39 0.8)" font-size="43">−</text><text x="399.05" y="1354.7" font-size="43">6</text><text x="361.84 396.45 410.9" y="362.9" font-size="66.5" transform="scale(0.96 1)">0.0</text><text transform="translate(368.3 1512.9) scale(1.43 1)" font-size="64.5">−</text><text x="452.84 483.82" y="1512.9" font-size="64.5" transform="scale(0.94 1)">10</text><text transform="translate(765.4 1512.9) scale(1.43 1)" font-size="64.5">−</text><text x="873.08" y="1512.9" font-size="64.5" transform="scale(0.94 1)">8</text><text transform="translate(1161.41 1512.9) scale(1.43 1)" font-size="64.5">−</text><text x="1291.8" y="1512.9" font-size="64.5" transform="scale(0.94 1)">6</text><text transform="translate(1540.3 1512.9) scale(1.43 1)" font-size="64.5">−</text><text x="1696.51" y="1512.9" font-size="64.5" transform="scale(0.94 1)">4</text><text transform="translate(1936.41 1512.9) scale(1.43 1)" font-size="64.5">−</text><text x="2115.36" y="1512.9" font-size="64.5" transform="scale(0.94 1)">2</text><text x="2368.54" y="1512.9" font-size="64.5">0</text><text transform="translate(1090.67 1612) scale(1 1.034)" font-size="76.3">Crank angle (°CA)</text><text transform="translate(85 1272.6) rotate(-90)" font-size="77.5">IC<tspan font-size="50.4" dy="23.4">8</tspan><tspan dy="-23.4">H</tspan><tspan font-size="50.4" dy="23.4">16</tspan><tspan dy="-23.4"> reaction rate (mole/[cm</tspan><tspan font-size="50.4" dy="-35.8">3</tspan><tspan dy="35.8">·s])</tspan></text></g>
</svg></body></html>
